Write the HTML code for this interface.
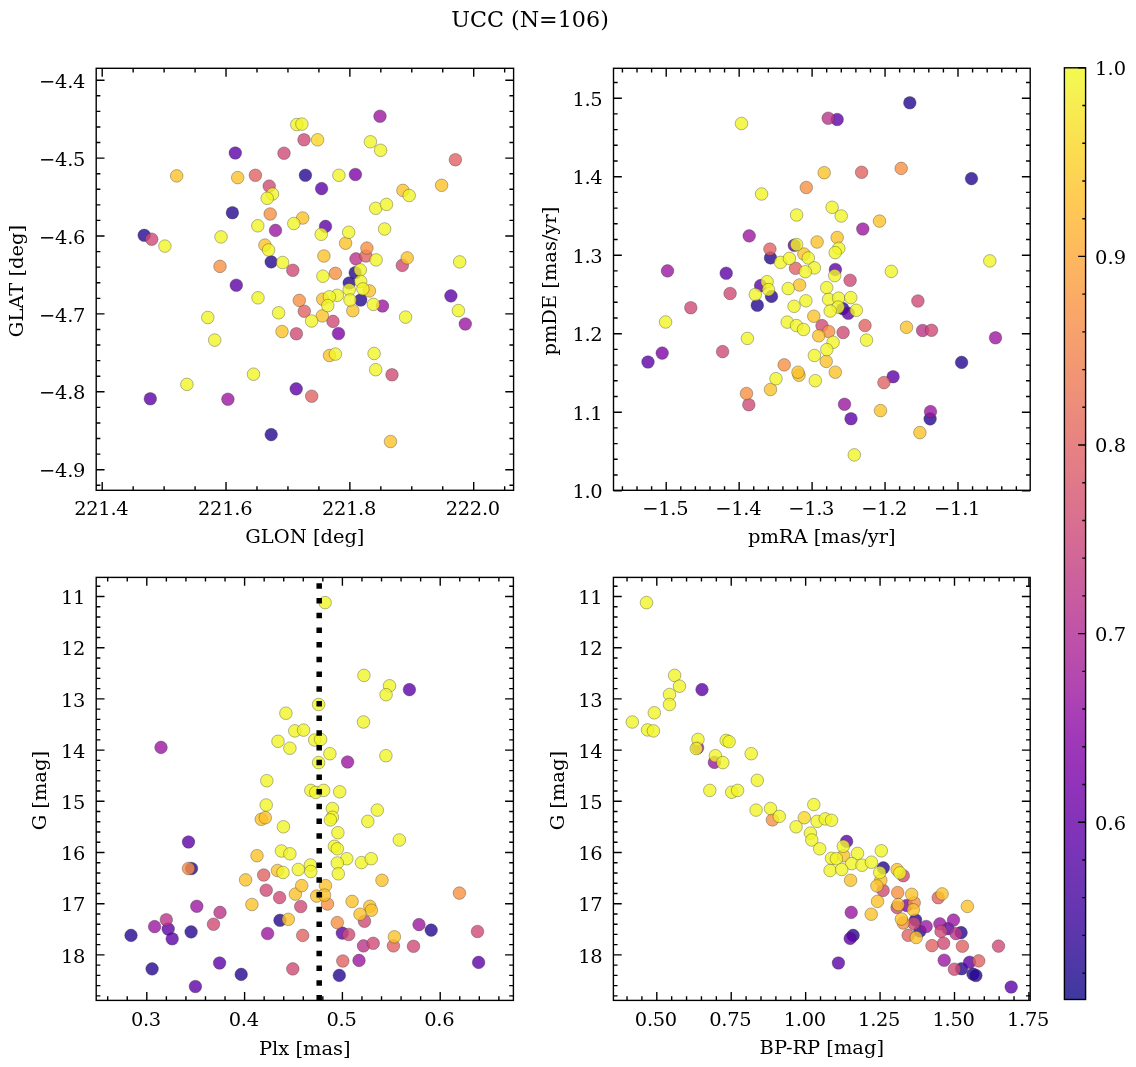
<!DOCTYPE html>
<html><head><meta charset="utf-8"><title>UCC (N=106)</title><style>html,body{margin:0;padding:0;background:#fff;}svg{display:block;}</style></head><body>
<svg width="1136" height="1067" viewBox="0 0 1136 1067" font-family="'DejaVu Serif', 'Liberation Serif', serif" fill="#000">
<rect width="1136" height="1067" fill="#fff"/>
<text x="530" y="26.6" text-anchor="middle" font-size="22.22px">UCC (N=106)</text>
<clipPath id="c96_68"><rect x="96.2" y="68.3" width="417.40000000000003" height="422.0"/></clipPath>
<g clip-path="url(#c96_68)">
<circle cx="305.4" cy="175.3" r="6.3" fill="#240691" fill-opacity="0.8" stroke="#333" stroke-opacity="0.6" stroke-width="0.6"/>
<circle cx="232.4" cy="212.7" r="6.3" fill="#240691" fill-opacity="0.8" stroke="#333" stroke-opacity="0.6" stroke-width="0.6"/>
<circle cx="144.2" cy="235.3" r="6.3" fill="#240691" fill-opacity="0.8" stroke="#333" stroke-opacity="0.6" stroke-width="0.6"/>
<circle cx="271.2" cy="261.9" r="6.3" fill="#240691" fill-opacity="0.8" stroke="#333" stroke-opacity="0.6" stroke-width="0.6"/>
<circle cx="271.2" cy="434.6" r="6.3" fill="#240691" fill-opacity="0.8" stroke="#333" stroke-opacity="0.6" stroke-width="0.6"/>
<circle cx="355.2" cy="272.7" r="6.3" fill="#240691" fill-opacity="0.8" stroke="#333" stroke-opacity="0.6" stroke-width="0.6"/>
<circle cx="349.2" cy="283.0" r="6.3" fill="#240691" fill-opacity="0.8" stroke="#333" stroke-opacity="0.6" stroke-width="0.6"/>
<circle cx="360.7" cy="300.0" r="6.3" fill="#240691" fill-opacity="0.8" stroke="#333" stroke-opacity="0.6" stroke-width="0.6"/>
<circle cx="235.3" cy="153.0" r="6.3" fill="#5e01a6" fill-opacity="0.8" stroke="#333" stroke-opacity="0.6" stroke-width="0.6"/>
<circle cx="321.6" cy="188.6" r="6.3" fill="#5e01a6" fill-opacity="0.8" stroke="#333" stroke-opacity="0.6" stroke-width="0.6"/>
<circle cx="325.5" cy="226.4" r="6.3" fill="#5e01a6" fill-opacity="0.8" stroke="#333" stroke-opacity="0.6" stroke-width="0.6"/>
<circle cx="236.3" cy="285.2" r="6.3" fill="#5e01a6" fill-opacity="0.8" stroke="#333" stroke-opacity="0.6" stroke-width="0.6"/>
<circle cx="296.2" cy="388.9" r="6.3" fill="#5e01a6" fill-opacity="0.8" stroke="#333" stroke-opacity="0.6" stroke-width="0.6"/>
<circle cx="150.3" cy="398.8" r="6.3" fill="#5e01a6" fill-opacity="0.8" stroke="#333" stroke-opacity="0.6" stroke-width="0.6"/>
<circle cx="450.9" cy="295.9" r="6.3" fill="#5e01a6" fill-opacity="0.8" stroke="#333" stroke-opacity="0.6" stroke-width="0.6"/>
<circle cx="355.4" cy="174.5" r="6.3" fill="#7e03a8" fill-opacity="0.8" stroke="#333" stroke-opacity="0.6" stroke-width="0.6"/>
<circle cx="338.5" cy="333.5" r="6.3" fill="#7e03a8" fill-opacity="0.8" stroke="#333" stroke-opacity="0.6" stroke-width="0.6"/>
<circle cx="275.5" cy="230.4" r="6.3" fill="#9a169f" fill-opacity="0.8" stroke="#333" stroke-opacity="0.6" stroke-width="0.6"/>
<circle cx="380.0" cy="116.2" r="6.3" fill="#9a169f" fill-opacity="0.8" stroke="#333" stroke-opacity="0.6" stroke-width="0.6"/>
<circle cx="227.9" cy="399.2" r="6.3" fill="#9a169f" fill-opacity="0.8" stroke="#333" stroke-opacity="0.6" stroke-width="0.6"/>
<circle cx="382.5" cy="306.0" r="6.3" fill="#9a169f" fill-opacity="0.8" stroke="#333" stroke-opacity="0.6" stroke-width="0.6"/>
<circle cx="465.3" cy="324.0" r="6.3" fill="#9a169f" fill-opacity="0.8" stroke="#333" stroke-opacity="0.6" stroke-width="0.6"/>
<circle cx="356.0" cy="258.9" r="6.3" fill="#ba3388" fill-opacity="0.8" stroke="#333" stroke-opacity="0.6" stroke-width="0.6"/>
<circle cx="304.0" cy="139.8" r="6.3" fill="#ce4b75" fill-opacity="0.8" stroke="#333" stroke-opacity="0.6" stroke-width="0.6"/>
<circle cx="284.0" cy="153.2" r="6.3" fill="#ce4b75" fill-opacity="0.8" stroke="#333" stroke-opacity="0.6" stroke-width="0.6"/>
<circle cx="269.2" cy="186.1" r="6.3" fill="#ce4b75" fill-opacity="0.8" stroke="#333" stroke-opacity="0.6" stroke-width="0.6"/>
<circle cx="151.7" cy="239.2" r="6.3" fill="#ce4b75" fill-opacity="0.8" stroke="#333" stroke-opacity="0.6" stroke-width="0.6"/>
<circle cx="402.3" cy="265.4" r="6.3" fill="#ce4b75" fill-opacity="0.8" stroke="#333" stroke-opacity="0.6" stroke-width="0.6"/>
<circle cx="292.8" cy="270.3" r="6.3" fill="#ce4b75" fill-opacity="0.8" stroke="#333" stroke-opacity="0.6" stroke-width="0.6"/>
<circle cx="296.4" cy="333.8" r="6.3" fill="#ce4b75" fill-opacity="0.8" stroke="#333" stroke-opacity="0.6" stroke-width="0.6"/>
<circle cx="333.0" cy="321.4" r="6.3" fill="#ce4b75" fill-opacity="0.8" stroke="#333" stroke-opacity="0.6" stroke-width="0.6"/>
<circle cx="392.0" cy="374.8" r="6.3" fill="#ce4b75" fill-opacity="0.8" stroke="#333" stroke-opacity="0.6" stroke-width="0.6"/>
<circle cx="255.4" cy="175.3" r="6.3" fill="#e06363" fill-opacity="0.8" stroke="#333" stroke-opacity="0.6" stroke-width="0.6"/>
<circle cx="455.4" cy="159.7" r="6.3" fill="#e06363" fill-opacity="0.8" stroke="#333" stroke-opacity="0.6" stroke-width="0.6"/>
<circle cx="365.9" cy="256.0" r="6.3" fill="#e06363" fill-opacity="0.8" stroke="#333" stroke-opacity="0.6" stroke-width="0.6"/>
<circle cx="304.3" cy="311.2" r="6.3" fill="#e06363" fill-opacity="0.8" stroke="#333" stroke-opacity="0.6" stroke-width="0.6"/>
<circle cx="311.7" cy="396.2" r="6.3" fill="#e06363" fill-opacity="0.8" stroke="#333" stroke-opacity="0.6" stroke-width="0.6"/>
<circle cx="270.2" cy="214.0" r="6.3" fill="#f79044" fill-opacity="0.8" stroke="#333" stroke-opacity="0.6" stroke-width="0.6"/>
<circle cx="220.0" cy="266.4" r="6.3" fill="#f79044" fill-opacity="0.8" stroke="#333" stroke-opacity="0.6" stroke-width="0.6"/>
<circle cx="366.9" cy="248.1" r="6.3" fill="#f79044" fill-opacity="0.8" stroke="#333" stroke-opacity="0.6" stroke-width="0.6"/>
<circle cx="299.3" cy="300.4" r="6.3" fill="#f79044" fill-opacity="0.8" stroke="#333" stroke-opacity="0.6" stroke-width="0.6"/>
<circle cx="335.4" cy="273.3" r="6.3" fill="#f79044" fill-opacity="0.8" stroke="#333" stroke-opacity="0.6" stroke-width="0.6"/>
<circle cx="176.7" cy="175.9" r="6.3" fill="#fdc229" fill-opacity="0.8" stroke="#333" stroke-opacity="0.6" stroke-width="0.6"/>
<circle cx="237.7" cy="177.6" r="6.3" fill="#fdc229" fill-opacity="0.8" stroke="#333" stroke-opacity="0.6" stroke-width="0.6"/>
<circle cx="302.7" cy="218.0" r="6.3" fill="#fdc229" fill-opacity="0.8" stroke="#333" stroke-opacity="0.6" stroke-width="0.6"/>
<circle cx="264.9" cy="245.1" r="6.3" fill="#fdc229" fill-opacity="0.8" stroke="#333" stroke-opacity="0.6" stroke-width="0.6"/>
<circle cx="402.9" cy="190.4" r="6.3" fill="#fdc229" fill-opacity="0.8" stroke="#333" stroke-opacity="0.6" stroke-width="0.6"/>
<circle cx="441.6" cy="185.3" r="6.3" fill="#fdc229" fill-opacity="0.8" stroke="#333" stroke-opacity="0.6" stroke-width="0.6"/>
<circle cx="345.6" cy="243.2" r="6.3" fill="#fdc229" fill-opacity="0.8" stroke="#333" stroke-opacity="0.6" stroke-width="0.6"/>
<circle cx="323.9" cy="256.0" r="6.3" fill="#fdc229" fill-opacity="0.8" stroke="#333" stroke-opacity="0.6" stroke-width="0.6"/>
<circle cx="407.2" cy="257.9" r="6.3" fill="#fdc229" fill-opacity="0.8" stroke="#333" stroke-opacity="0.6" stroke-width="0.6"/>
<circle cx="282.0" cy="331.5" r="6.3" fill="#fdc229" fill-opacity="0.8" stroke="#333" stroke-opacity="0.6" stroke-width="0.6"/>
<circle cx="369.4" cy="290.9" r="6.3" fill="#fdc229" fill-opacity="0.8" stroke="#333" stroke-opacity="0.6" stroke-width="0.6"/>
<circle cx="352.8" cy="310.7" r="6.3" fill="#fdc229" fill-opacity="0.8" stroke="#333" stroke-opacity="0.6" stroke-width="0.6"/>
<circle cx="322.7" cy="299.2" r="6.3" fill="#fdc229" fill-opacity="0.8" stroke="#333" stroke-opacity="0.6" stroke-width="0.6"/>
<circle cx="322.3" cy="315.9" r="6.3" fill="#fdc229" fill-opacity="0.8" stroke="#333" stroke-opacity="0.6" stroke-width="0.6"/>
<circle cx="329.5" cy="355.5" r="6.3" fill="#fdc229" fill-opacity="0.8" stroke="#333" stroke-opacity="0.6" stroke-width="0.6"/>
<circle cx="390.5" cy="441.5" r="6.3" fill="#fdc229" fill-opacity="0.8" stroke="#333" stroke-opacity="0.6" stroke-width="0.6"/>
<circle cx="317.6" cy="139.8" r="6.3" fill="#fbd724" fill-opacity="0.8" stroke="#333" stroke-opacity="0.6" stroke-width="0.6"/>
<circle cx="296.8" cy="124.5" r="6.3" fill="#f1f525" fill-opacity="0.8" stroke="#333" stroke-opacity="0.6" stroke-width="0.6"/>
<circle cx="301.9" cy="124.1" r="6.3" fill="#f1f525" fill-opacity="0.8" stroke="#333" stroke-opacity="0.6" stroke-width="0.6"/>
<circle cx="272.5" cy="194.0" r="6.3" fill="#f1f525" fill-opacity="0.8" stroke="#333" stroke-opacity="0.6" stroke-width="0.6"/>
<circle cx="267.2" cy="198.3" r="6.3" fill="#f1f525" fill-opacity="0.8" stroke="#333" stroke-opacity="0.6" stroke-width="0.6"/>
<circle cx="257.8" cy="225.8" r="6.3" fill="#f1f525" fill-opacity="0.8" stroke="#333" stroke-opacity="0.6" stroke-width="0.6"/>
<circle cx="293.8" cy="223.5" r="6.3" fill="#f1f525" fill-opacity="0.8" stroke="#333" stroke-opacity="0.6" stroke-width="0.6"/>
<circle cx="164.9" cy="246.1" r="6.3" fill="#f1f525" fill-opacity="0.8" stroke="#333" stroke-opacity="0.6" stroke-width="0.6"/>
<circle cx="221.0" cy="236.9" r="6.3" fill="#f1f525" fill-opacity="0.8" stroke="#333" stroke-opacity="0.6" stroke-width="0.6"/>
<circle cx="268.6" cy="250.0" r="6.3" fill="#f1f525" fill-opacity="0.8" stroke="#333" stroke-opacity="0.6" stroke-width="0.6"/>
<circle cx="282.6" cy="262.5" r="6.3" fill="#f1f525" fill-opacity="0.8" stroke="#333" stroke-opacity="0.6" stroke-width="0.6"/>
<circle cx="370.4" cy="141.8" r="6.3" fill="#f1f525" fill-opacity="0.8" stroke="#333" stroke-opacity="0.6" stroke-width="0.6"/>
<circle cx="380.6" cy="150.3" r="6.3" fill="#f1f525" fill-opacity="0.8" stroke="#333" stroke-opacity="0.6" stroke-width="0.6"/>
<circle cx="338.9" cy="175.3" r="6.3" fill="#f1f525" fill-opacity="0.8" stroke="#333" stroke-opacity="0.6" stroke-width="0.6"/>
<circle cx="409.2" cy="195.5" r="6.3" fill="#f1f525" fill-opacity="0.8" stroke="#333" stroke-opacity="0.6" stroke-width="0.6"/>
<circle cx="375.7" cy="208.3" r="6.3" fill="#f1f525" fill-opacity="0.8" stroke="#333" stroke-opacity="0.6" stroke-width="0.6"/>
<circle cx="386.5" cy="204.4" r="6.3" fill="#f1f525" fill-opacity="0.8" stroke="#333" stroke-opacity="0.6" stroke-width="0.6"/>
<circle cx="321.2" cy="234.3" r="6.3" fill="#f1f525" fill-opacity="0.8" stroke="#333" stroke-opacity="0.6" stroke-width="0.6"/>
<circle cx="348.7" cy="232.3" r="6.3" fill="#f1f525" fill-opacity="0.8" stroke="#333" stroke-opacity="0.6" stroke-width="0.6"/>
<circle cx="384.6" cy="229.0" r="6.3" fill="#f1f525" fill-opacity="0.8" stroke="#333" stroke-opacity="0.6" stroke-width="0.6"/>
<circle cx="376.1" cy="259.9" r="6.3" fill="#f1f525" fill-opacity="0.8" stroke="#333" stroke-opacity="0.6" stroke-width="0.6"/>
<circle cx="459.7" cy="261.9" r="6.3" fill="#f1f525" fill-opacity="0.8" stroke="#333" stroke-opacity="0.6" stroke-width="0.6"/>
<circle cx="258.0" cy="297.8" r="6.3" fill="#f1f525" fill-opacity="0.8" stroke="#333" stroke-opacity="0.6" stroke-width="0.6"/>
<circle cx="278.6" cy="312.8" r="6.3" fill="#f1f525" fill-opacity="0.8" stroke="#333" stroke-opacity="0.6" stroke-width="0.6"/>
<circle cx="207.8" cy="317.5" r="6.3" fill="#f1f525" fill-opacity="0.8" stroke="#333" stroke-opacity="0.6" stroke-width="0.6"/>
<circle cx="214.7" cy="340.1" r="6.3" fill="#f1f525" fill-opacity="0.8" stroke="#333" stroke-opacity="0.6" stroke-width="0.6"/>
<circle cx="253.5" cy="374.2" r="6.3" fill="#f1f525" fill-opacity="0.8" stroke="#333" stroke-opacity="0.6" stroke-width="0.6"/>
<circle cx="186.9" cy="384.4" r="6.3" fill="#f1f525" fill-opacity="0.8" stroke="#333" stroke-opacity="0.6" stroke-width="0.6"/>
<circle cx="322.9" cy="276.2" r="6.3" fill="#f1f525" fill-opacity="0.8" stroke="#333" stroke-opacity="0.6" stroke-width="0.6"/>
<circle cx="360.3" cy="269.9" r="6.3" fill="#f1f525" fill-opacity="0.8" stroke="#333" stroke-opacity="0.6" stroke-width="0.6"/>
<circle cx="360.7" cy="281.4" r="6.3" fill="#f1f525" fill-opacity="0.8" stroke="#333" stroke-opacity="0.6" stroke-width="0.6"/>
<circle cx="349.2" cy="289.7" r="6.3" fill="#f1f525" fill-opacity="0.8" stroke="#333" stroke-opacity="0.6" stroke-width="0.6"/>
<circle cx="362.9" cy="288.9" r="6.3" fill="#f1f525" fill-opacity="0.8" stroke="#333" stroke-opacity="0.6" stroke-width="0.6"/>
<circle cx="350.0" cy="300.0" r="6.3" fill="#f1f525" fill-opacity="0.8" stroke="#333" stroke-opacity="0.6" stroke-width="0.6"/>
<circle cx="337.3" cy="295.3" r="6.3" fill="#f1f525" fill-opacity="0.8" stroke="#333" stroke-opacity="0.6" stroke-width="0.6"/>
<circle cx="329.4" cy="296.8" r="6.3" fill="#f1f525" fill-opacity="0.8" stroke="#333" stroke-opacity="0.6" stroke-width="0.6"/>
<circle cx="327.8" cy="305.6" r="6.3" fill="#f1f525" fill-opacity="0.8" stroke="#333" stroke-opacity="0.6" stroke-width="0.6"/>
<circle cx="373.4" cy="304.4" r="6.3" fill="#f1f525" fill-opacity="0.8" stroke="#333" stroke-opacity="0.6" stroke-width="0.6"/>
<circle cx="311.6" cy="321.0" r="6.3" fill="#f1f525" fill-opacity="0.8" stroke="#333" stroke-opacity="0.6" stroke-width="0.6"/>
<circle cx="405.6" cy="317.1" r="6.3" fill="#f1f525" fill-opacity="0.8" stroke="#333" stroke-opacity="0.6" stroke-width="0.6"/>
<circle cx="458.4" cy="310.6" r="6.3" fill="#f1f525" fill-opacity="0.8" stroke="#333" stroke-opacity="0.6" stroke-width="0.6"/>
<circle cx="335.4" cy="354.1" r="6.3" fill="#f1f525" fill-opacity="0.8" stroke="#333" stroke-opacity="0.6" stroke-width="0.6"/>
<circle cx="374.1" cy="353.5" r="6.3" fill="#f1f525" fill-opacity="0.8" stroke="#333" stroke-opacity="0.6" stroke-width="0.6"/>
<circle cx="375.7" cy="369.7" r="6.3" fill="#f1f525" fill-opacity="0.8" stroke="#333" stroke-opacity="0.6" stroke-width="0.6"/>
</g>
<path d="M102.20 490.3v-8.33M102.20 68.3v8.33M226.03 490.3v-8.33M226.03 68.3v8.33M349.87 490.3v-8.33M349.87 68.3v8.33M473.70 490.3v-8.33M473.70 68.3v8.33M102.20 490.3v-4.17M102.20 68.3v4.17M133.16 490.3v-4.17M133.16 68.3v4.17M164.12 490.3v-4.17M164.12 68.3v4.17M195.08 490.3v-4.17M195.08 68.3v4.17M226.03 490.3v-4.17M226.03 68.3v4.17M256.99 490.3v-4.17M256.99 68.3v4.17M287.95 490.3v-4.17M287.95 68.3v4.17M318.91 490.3v-4.17M318.91 68.3v4.17M349.87 490.3v-4.17M349.87 68.3v4.17M380.83 490.3v-4.17M380.83 68.3v4.17M411.78 490.3v-4.17M411.78 68.3v4.17M442.74 490.3v-4.17M442.74 68.3v4.17M473.70 490.3v-4.17M473.70 68.3v4.17M504.66 490.3v-4.17M504.66 68.3v4.17M96.2 469.70h8.33M513.6 469.70h-8.33M96.2 391.80h8.33M513.6 391.80h-8.33M96.2 313.90h8.33M513.6 313.90h-8.33M96.2 236.00h8.33M513.6 236.00h-8.33M96.2 158.10h8.33M513.6 158.10h-8.33M96.2 80.20h8.33M513.6 80.20h-8.33M96.2 485.28h4.17M513.6 485.28h-4.17M96.2 469.70h4.17M513.6 469.70h-4.17M96.2 454.12h4.17M513.6 454.12h-4.17M96.2 438.54h4.17M513.6 438.54h-4.17M96.2 422.96h4.17M513.6 422.96h-4.17M96.2 407.38h4.17M513.6 407.38h-4.17M96.2 391.80h4.17M513.6 391.80h-4.17M96.2 376.22h4.17M513.6 376.22h-4.17M96.2 360.64h4.17M513.6 360.64h-4.17M96.2 345.06h4.17M513.6 345.06h-4.17M96.2 329.48h4.17M513.6 329.48h-4.17M96.2 313.90h4.17M513.6 313.90h-4.17M96.2 298.32h4.17M513.6 298.32h-4.17M96.2 282.74h4.17M513.6 282.74h-4.17M96.2 267.16h4.17M513.6 267.16h-4.17M96.2 251.58h4.17M513.6 251.58h-4.17M96.2 236.00h4.17M513.6 236.00h-4.17M96.2 220.42h4.17M513.6 220.42h-4.17M96.2 204.84h4.17M513.6 204.84h-4.17M96.2 189.26h4.17M513.6 189.26h-4.17M96.2 173.68h4.17M513.6 173.68h-4.17M96.2 158.10h4.17M513.6 158.10h-4.17M96.2 142.52h4.17M513.6 142.52h-4.17M96.2 126.94h4.17M513.6 126.94h-4.17M96.2 111.36h4.17M513.6 111.36h-4.17M96.2 95.78h4.17M513.6 95.78h-4.17M96.2 80.20h4.17M513.6 80.20h-4.17" stroke="#000" stroke-width="1.39" fill="none"/>
<rect x="96.2" y="68.3" width="417.40000000000003" height="422.0" stroke="#000" stroke-width="1.39" fill="none"/>
<g font-size="19.44px" letter-spacing="-0.3px">
<text x="101.30" y="515.40" text-anchor="middle">221.4</text>
<text x="225.13" y="515.40" text-anchor="middle">221.6</text>
<text x="348.97" y="515.40" text-anchor="middle">221.8</text>
<text x="472.80" y="515.40" text-anchor="middle">222.0</text>
<text x="85.10" y="477.30" text-anchor="end">−4.9</text>
<text x="85.10" y="399.40" text-anchor="end">−4.8</text>
<text x="85.10" y="321.50" text-anchor="end">−4.7</text>
<text x="85.10" y="243.60" text-anchor="end">−4.6</text>
<text x="85.10" y="165.70" text-anchor="end">−4.5</text>
<text x="85.10" y="87.80" text-anchor="end">−4.4</text>
</g>
<text x="304.90" y="543.20" text-anchor="middle" font-size="19.44px">GLON [deg]</text>
<text transform="translate(23.30,281.10) rotate(-90)" text-anchor="middle" font-size="19.44px">GLAT [deg]</text>
<clipPath id="c613_68"><rect x="613.5" y="68.3" width="416.70000000000005" height="422.0"/></clipPath>
<g clip-path="url(#c613_68)">
<circle cx="770.5" cy="257.9" r="6.3" fill="#240691" fill-opacity="0.8" stroke="#333" stroke-opacity="0.6" stroke-width="0.6"/>
<circle cx="909.8" cy="102.8" r="6.3" fill="#240691" fill-opacity="0.8" stroke="#333" stroke-opacity="0.6" stroke-width="0.6"/>
<circle cx="971.5" cy="178.6" r="6.3" fill="#240691" fill-opacity="0.8" stroke="#333" stroke-opacity="0.6" stroke-width="0.6"/>
<circle cx="771.5" cy="296.4" r="6.3" fill="#240691" fill-opacity="0.8" stroke="#333" stroke-opacity="0.6" stroke-width="0.6"/>
<circle cx="757.3" cy="305.3" r="6.3" fill="#240691" fill-opacity="0.8" stroke="#333" stroke-opacity="0.6" stroke-width="0.6"/>
<circle cx="842.8" cy="308.6" r="6.3" fill="#240691" fill-opacity="0.8" stroke="#333" stroke-opacity="0.6" stroke-width="0.6"/>
<circle cx="961.6" cy="362.4" r="6.3" fill="#240691" fill-opacity="0.8" stroke="#333" stroke-opacity="0.6" stroke-width="0.6"/>
<circle cx="930.1" cy="418.9" r="6.3" fill="#240691" fill-opacity="0.8" stroke="#333" stroke-opacity="0.6" stroke-width="0.6"/>
<circle cx="794.3" cy="245.3" r="6.3" fill="#5e01a6" fill-opacity="0.8" stroke="#333" stroke-opacity="0.6" stroke-width="0.6"/>
<circle cx="837.2" cy="119.5" r="6.3" fill="#5e01a6" fill-opacity="0.8" stroke="#333" stroke-opacity="0.6" stroke-width="0.6"/>
<circle cx="726.2" cy="273.2" r="6.3" fill="#5e01a6" fill-opacity="0.8" stroke="#333" stroke-opacity="0.6" stroke-width="0.6"/>
<circle cx="760.6" cy="285.6" r="6.3" fill="#5e01a6" fill-opacity="0.8" stroke="#333" stroke-opacity="0.6" stroke-width="0.6"/>
<circle cx="648.0" cy="362.0" r="6.3" fill="#5e01a6" fill-opacity="0.8" stroke="#333" stroke-opacity="0.6" stroke-width="0.6"/>
<circle cx="835.4" cy="269.5" r="6.3" fill="#5e01a6" fill-opacity="0.8" stroke="#333" stroke-opacity="0.6" stroke-width="0.6"/>
<circle cx="848.3" cy="313.3" r="6.3" fill="#5e01a6" fill-opacity="0.8" stroke="#333" stroke-opacity="0.6" stroke-width="0.6"/>
<circle cx="893.1" cy="376.7" r="6.3" fill="#5e01a6" fill-opacity="0.8" stroke="#333" stroke-opacity="0.6" stroke-width="0.6"/>
<circle cx="851.0" cy="418.7" r="6.3" fill="#5e01a6" fill-opacity="0.8" stroke="#333" stroke-opacity="0.6" stroke-width="0.6"/>
<circle cx="662.2" cy="353.1" r="6.3" fill="#7e03a8" fill-opacity="0.8" stroke="#333" stroke-opacity="0.6" stroke-width="0.6"/>
<circle cx="749.2" cy="235.9" r="6.3" fill="#9a169f" fill-opacity="0.8" stroke="#333" stroke-opacity="0.6" stroke-width="0.6"/>
<circle cx="862.8" cy="229.0" r="6.3" fill="#9a169f" fill-opacity="0.8" stroke="#333" stroke-opacity="0.6" stroke-width="0.6"/>
<circle cx="667.5" cy="270.9" r="6.3" fill="#9a169f" fill-opacity="0.8" stroke="#333" stroke-opacity="0.6" stroke-width="0.6"/>
<circle cx="995.5" cy="337.8" r="6.3" fill="#9a169f" fill-opacity="0.8" stroke="#333" stroke-opacity="0.6" stroke-width="0.6"/>
<circle cx="844.5" cy="404.3" r="6.3" fill="#9a169f" fill-opacity="0.8" stroke="#333" stroke-opacity="0.6" stroke-width="0.6"/>
<circle cx="930.5" cy="411.6" r="6.3" fill="#9a169f" fill-opacity="0.8" stroke="#333" stroke-opacity="0.6" stroke-width="0.6"/>
<circle cx="828.2" cy="118.2" r="6.3" fill="#ba3388" fill-opacity="0.8" stroke="#333" stroke-opacity="0.6" stroke-width="0.6"/>
<circle cx="922.6" cy="330.5" r="6.3" fill="#ba3388" fill-opacity="0.8" stroke="#333" stroke-opacity="0.6" stroke-width="0.6"/>
<circle cx="730.1" cy="293.5" r="6.3" fill="#ce4b75" fill-opacity="0.8" stroke="#333" stroke-opacity="0.6" stroke-width="0.6"/>
<circle cx="690.8" cy="307.7" r="6.3" fill="#ce4b75" fill-opacity="0.8" stroke="#333" stroke-opacity="0.6" stroke-width="0.6"/>
<circle cx="822.0" cy="325.6" r="6.3" fill="#ce4b75" fill-opacity="0.8" stroke="#333" stroke-opacity="0.6" stroke-width="0.6"/>
<circle cx="722.6" cy="351.6" r="6.3" fill="#ce4b75" fill-opacity="0.8" stroke="#333" stroke-opacity="0.6" stroke-width="0.6"/>
<circle cx="748.8" cy="404.7" r="6.3" fill="#ce4b75" fill-opacity="0.8" stroke="#333" stroke-opacity="0.6" stroke-width="0.6"/>
<circle cx="850.1" cy="280.3" r="6.3" fill="#ce4b75" fill-opacity="0.8" stroke="#333" stroke-opacity="0.6" stroke-width="0.6"/>
<circle cx="843.1" cy="332.5" r="6.3" fill="#ce4b75" fill-opacity="0.8" stroke="#333" stroke-opacity="0.6" stroke-width="0.6"/>
<circle cx="917.9" cy="301.0" r="6.3" fill="#ce4b75" fill-opacity="0.8" stroke="#333" stroke-opacity="0.6" stroke-width="0.6"/>
<circle cx="931.5" cy="330.3" r="6.3" fill="#ce4b75" fill-opacity="0.8" stroke="#333" stroke-opacity="0.6" stroke-width="0.6"/>
<circle cx="769.9" cy="249.1" r="6.3" fill="#e06363" fill-opacity="0.8" stroke="#333" stroke-opacity="0.6" stroke-width="0.6"/>
<circle cx="861.6" cy="172.3" r="6.3" fill="#e06363" fill-opacity="0.8" stroke="#333" stroke-opacity="0.6" stroke-width="0.6"/>
<circle cx="795.5" cy="268.3" r="6.3" fill="#e06363" fill-opacity="0.8" stroke="#333" stroke-opacity="0.6" stroke-width="0.6"/>
<circle cx="865.0" cy="325.5" r="6.3" fill="#e06363" fill-opacity="0.8" stroke="#333" stroke-opacity="0.6" stroke-width="0.6"/>
<circle cx="883.9" cy="382.6" r="6.3" fill="#e06363" fill-opacity="0.8" stroke="#333" stroke-opacity="0.6" stroke-width="0.6"/>
<circle cx="806.3" cy="187.5" r="6.3" fill="#f79044" fill-opacity="0.8" stroke="#333" stroke-opacity="0.6" stroke-width="0.6"/>
<circle cx="901.2" cy="168.4" r="6.3" fill="#f79044" fill-opacity="0.8" stroke="#333" stroke-opacity="0.6" stroke-width="0.6"/>
<circle cx="784.2" cy="364.9" r="6.3" fill="#f79044" fill-opacity="0.8" stroke="#333" stroke-opacity="0.6" stroke-width="0.6"/>
<circle cx="746.5" cy="393.5" r="6.3" fill="#f79044" fill-opacity="0.8" stroke="#333" stroke-opacity="0.6" stroke-width="0.6"/>
<circle cx="828.7" cy="331.5" r="6.3" fill="#f79044" fill-opacity="0.8" stroke="#333" stroke-opacity="0.6" stroke-width="0.6"/>
<circle cx="817.1" cy="242.0" r="6.3" fill="#fdc229" fill-opacity="0.8" stroke="#333" stroke-opacity="0.6" stroke-width="0.6"/>
<circle cx="803.9" cy="254.0" r="6.3" fill="#fdc229" fill-opacity="0.8" stroke="#333" stroke-opacity="0.6" stroke-width="0.6"/>
<circle cx="824.2" cy="172.7" r="6.3" fill="#fdc229" fill-opacity="0.8" stroke="#333" stroke-opacity="0.6" stroke-width="0.6"/>
<circle cx="879.5" cy="221.1" r="6.3" fill="#fdc229" fill-opacity="0.8" stroke="#333" stroke-opacity="0.6" stroke-width="0.6"/>
<circle cx="837.2" cy="237.5" r="6.3" fill="#fdc229" fill-opacity="0.8" stroke="#333" stroke-opacity="0.6" stroke-width="0.6"/>
<circle cx="799.6" cy="285.0" r="6.3" fill="#fdc229" fill-opacity="0.8" stroke="#333" stroke-opacity="0.6" stroke-width="0.6"/>
<circle cx="813.8" cy="316.2" r="6.3" fill="#fdc229" fill-opacity="0.8" stroke="#333" stroke-opacity="0.6" stroke-width="0.6"/>
<circle cx="818.7" cy="335.8" r="6.3" fill="#fdc229" fill-opacity="0.8" stroke="#333" stroke-opacity="0.6" stroke-width="0.6"/>
<circle cx="799.0" cy="375.2" r="6.3" fill="#fdc229" fill-opacity="0.8" stroke="#333" stroke-opacity="0.6" stroke-width="0.6"/>
<circle cx="798.0" cy="372.2" r="6.3" fill="#fdc229" fill-opacity="0.8" stroke="#333" stroke-opacity="0.6" stroke-width="0.6"/>
<circle cx="770.5" cy="389.5" r="6.3" fill="#fdc229" fill-opacity="0.8" stroke="#333" stroke-opacity="0.6" stroke-width="0.6"/>
<circle cx="826.2" cy="361.4" r="6.3" fill="#fdc229" fill-opacity="0.8" stroke="#333" stroke-opacity="0.6" stroke-width="0.6"/>
<circle cx="835.3" cy="372.2" r="6.3" fill="#fdc229" fill-opacity="0.8" stroke="#333" stroke-opacity="0.6" stroke-width="0.6"/>
<circle cx="906.5" cy="327.3" r="6.3" fill="#fdc229" fill-opacity="0.8" stroke="#333" stroke-opacity="0.6" stroke-width="0.6"/>
<circle cx="880.5" cy="410.6" r="6.3" fill="#fdc229" fill-opacity="0.8" stroke="#333" stroke-opacity="0.6" stroke-width="0.6"/>
<circle cx="919.9" cy="432.6" r="6.3" fill="#fdc229" fill-opacity="0.8" stroke="#333" stroke-opacity="0.6" stroke-width="0.6"/>
<circle cx="741.5" cy="123.5" r="6.3" fill="#f1f525" fill-opacity="0.8" stroke="#333" stroke-opacity="0.6" stroke-width="0.6"/>
<circle cx="761.6" cy="194.0" r="6.3" fill="#f1f525" fill-opacity="0.8" stroke="#333" stroke-opacity="0.6" stroke-width="0.6"/>
<circle cx="796.6" cy="215.0" r="6.3" fill="#f1f525" fill-opacity="0.8" stroke="#333" stroke-opacity="0.6" stroke-width="0.6"/>
<circle cx="796.6" cy="244.6" r="6.3" fill="#f1f525" fill-opacity="0.8" stroke="#333" stroke-opacity="0.6" stroke-width="0.6"/>
<circle cx="780.5" cy="262.4" r="6.3" fill="#f1f525" fill-opacity="0.8" stroke="#333" stroke-opacity="0.6" stroke-width="0.6"/>
<circle cx="789.4" cy="258.4" r="6.3" fill="#f1f525" fill-opacity="0.8" stroke="#333" stroke-opacity="0.6" stroke-width="0.6"/>
<circle cx="808.3" cy="258.0" r="6.3" fill="#f1f525" fill-opacity="0.8" stroke="#333" stroke-opacity="0.6" stroke-width="0.6"/>
<circle cx="832.1" cy="207.3" r="6.3" fill="#f1f525" fill-opacity="0.8" stroke="#333" stroke-opacity="0.6" stroke-width="0.6"/>
<circle cx="841.2" cy="216.0" r="6.3" fill="#f1f525" fill-opacity="0.8" stroke="#333" stroke-opacity="0.6" stroke-width="0.6"/>
<circle cx="838.8" cy="248.3" r="6.3" fill="#f1f525" fill-opacity="0.8" stroke="#333" stroke-opacity="0.6" stroke-width="0.6"/>
<circle cx="835.2" cy="252.6" r="6.3" fill="#f1f525" fill-opacity="0.8" stroke="#333" stroke-opacity="0.6" stroke-width="0.6"/>
<circle cx="989.8" cy="260.9" r="6.3" fill="#f1f525" fill-opacity="0.8" stroke="#333" stroke-opacity="0.6" stroke-width="0.6"/>
<circle cx="814.4" cy="267.9" r="6.3" fill="#f1f525" fill-opacity="0.8" stroke="#333" stroke-opacity="0.6" stroke-width="0.6"/>
<circle cx="805.3" cy="271.7" r="6.3" fill="#f1f525" fill-opacity="0.8" stroke="#333" stroke-opacity="0.6" stroke-width="0.6"/>
<circle cx="665.6" cy="322.0" r="6.3" fill="#f1f525" fill-opacity="0.8" stroke="#333" stroke-opacity="0.6" stroke-width="0.6"/>
<circle cx="767.1" cy="281.7" r="6.3" fill="#f1f525" fill-opacity="0.8" stroke="#333" stroke-opacity="0.6" stroke-width="0.6"/>
<circle cx="768.5" cy="289.6" r="6.3" fill="#f1f525" fill-opacity="0.8" stroke="#333" stroke-opacity="0.6" stroke-width="0.6"/>
<circle cx="755.3" cy="294.5" r="6.3" fill="#f1f525" fill-opacity="0.8" stroke="#333" stroke-opacity="0.6" stroke-width="0.6"/>
<circle cx="788.2" cy="288.6" r="6.3" fill="#f1f525" fill-opacity="0.8" stroke="#333" stroke-opacity="0.6" stroke-width="0.6"/>
<circle cx="805.9" cy="300.8" r="6.3" fill="#f1f525" fill-opacity="0.8" stroke="#333" stroke-opacity="0.6" stroke-width="0.6"/>
<circle cx="794.1" cy="306.3" r="6.3" fill="#f1f525" fill-opacity="0.8" stroke="#333" stroke-opacity="0.6" stroke-width="0.6"/>
<circle cx="787.2" cy="322.1" r="6.3" fill="#f1f525" fill-opacity="0.8" stroke="#333" stroke-opacity="0.6" stroke-width="0.6"/>
<circle cx="796.5" cy="325.6" r="6.3" fill="#f1f525" fill-opacity="0.8" stroke="#333" stroke-opacity="0.6" stroke-width="0.6"/>
<circle cx="803.5" cy="329.5" r="6.3" fill="#f1f525" fill-opacity="0.8" stroke="#333" stroke-opacity="0.6" stroke-width="0.6"/>
<circle cx="747.4" cy="338.4" r="6.3" fill="#f1f525" fill-opacity="0.8" stroke="#333" stroke-opacity="0.6" stroke-width="0.6"/>
<circle cx="814.4" cy="355.5" r="6.3" fill="#f1f525" fill-opacity="0.8" stroke="#333" stroke-opacity="0.6" stroke-width="0.6"/>
<circle cx="776.0" cy="378.7" r="6.3" fill="#f1f525" fill-opacity="0.8" stroke="#333" stroke-opacity="0.6" stroke-width="0.6"/>
<circle cx="815.3" cy="380.7" r="6.3" fill="#f1f525" fill-opacity="0.8" stroke="#333" stroke-opacity="0.6" stroke-width="0.6"/>
<circle cx="834.7" cy="275.6" r="6.3" fill="#f1f525" fill-opacity="0.8" stroke="#333" stroke-opacity="0.6" stroke-width="0.6"/>
<circle cx="891.3" cy="271.4" r="6.3" fill="#f1f525" fill-opacity="0.8" stroke="#333" stroke-opacity="0.6" stroke-width="0.6"/>
<circle cx="826.7" cy="287.6" r="6.3" fill="#f1f525" fill-opacity="0.8" stroke="#333" stroke-opacity="0.6" stroke-width="0.6"/>
<circle cx="828.6" cy="299.4" r="6.3" fill="#f1f525" fill-opacity="0.8" stroke="#333" stroke-opacity="0.6" stroke-width="0.6"/>
<circle cx="838.6" cy="298.1" r="6.3" fill="#f1f525" fill-opacity="0.8" stroke="#333" stroke-opacity="0.6" stroke-width="0.6"/>
<circle cx="850.8" cy="297.6" r="6.3" fill="#f1f525" fill-opacity="0.8" stroke="#333" stroke-opacity="0.6" stroke-width="0.6"/>
<circle cx="838.2" cy="307.1" r="6.3" fill="#f1f525" fill-opacity="0.8" stroke="#333" stroke-opacity="0.6" stroke-width="0.6"/>
<circle cx="830.2" cy="311.0" r="6.3" fill="#f1f525" fill-opacity="0.8" stroke="#333" stroke-opacity="0.6" stroke-width="0.6"/>
<circle cx="856.3" cy="310.3" r="6.3" fill="#f1f525" fill-opacity="0.8" stroke="#333" stroke-opacity="0.6" stroke-width="0.6"/>
<circle cx="866.5" cy="340.1" r="6.3" fill="#f1f525" fill-opacity="0.8" stroke="#333" stroke-opacity="0.6" stroke-width="0.6"/>
<circle cx="833.1" cy="342.3" r="6.3" fill="#f1f525" fill-opacity="0.8" stroke="#333" stroke-opacity="0.6" stroke-width="0.6"/>
<circle cx="826.8" cy="349.6" r="6.3" fill="#f1f525" fill-opacity="0.8" stroke="#333" stroke-opacity="0.6" stroke-width="0.6"/>
<circle cx="854.3" cy="454.9" r="6.3" fill="#f1f525" fill-opacity="0.8" stroke="#333" stroke-opacity="0.6" stroke-width="0.6"/>
</g>
<path d="M666.20 490.3v-8.33M666.20 68.3v8.33M739.15 490.3v-8.33M739.15 68.3v8.33M812.10 490.3v-8.33M812.10 68.3v8.33M885.05 490.3v-8.33M885.05 68.3v8.33M958.00 490.3v-8.33M958.00 68.3v8.33M622.43 490.3v-4.17M622.43 68.3v4.17M637.02 490.3v-4.17M637.02 68.3v4.17M651.61 490.3v-4.17M651.61 68.3v4.17M666.20 490.3v-4.17M666.20 68.3v4.17M680.79 490.3v-4.17M680.79 68.3v4.17M695.38 490.3v-4.17M695.38 68.3v4.17M709.97 490.3v-4.17M709.97 68.3v4.17M724.56 490.3v-4.17M724.56 68.3v4.17M739.15 490.3v-4.17M739.15 68.3v4.17M753.74 490.3v-4.17M753.74 68.3v4.17M768.33 490.3v-4.17M768.33 68.3v4.17M782.92 490.3v-4.17M782.92 68.3v4.17M797.51 490.3v-4.17M797.51 68.3v4.17M812.10 490.3v-4.17M812.10 68.3v4.17M826.69 490.3v-4.17M826.69 68.3v4.17M841.28 490.3v-4.17M841.28 68.3v4.17M855.87 490.3v-4.17M855.87 68.3v4.17M870.46 490.3v-4.17M870.46 68.3v4.17M885.05 490.3v-4.17M885.05 68.3v4.17M899.64 490.3v-4.17M899.64 68.3v4.17M914.23 490.3v-4.17M914.23 68.3v4.17M928.82 490.3v-4.17M928.82 68.3v4.17M943.41 490.3v-4.17M943.41 68.3v4.17M958.00 490.3v-4.17M958.00 68.3v4.17M972.59 490.3v-4.17M972.59 68.3v4.17M987.18 490.3v-4.17M987.18 68.3v4.17M1001.77 490.3v-4.17M1001.77 68.3v4.17M1016.36 490.3v-4.17M1016.36 68.3v4.17M613.5 490.70h8.33M1030.2 490.70h-8.33M613.5 412.20h8.33M1030.2 412.20h-8.33M613.5 333.70h8.33M1030.2 333.70h-8.33M613.5 255.20h8.33M1030.2 255.20h-8.33M613.5 176.70h8.33M1030.2 176.70h-8.33M613.5 98.20h8.33M1030.2 98.20h-8.33M613.5 475.00h4.17M1030.2 475.00h-4.17M613.5 459.30h4.17M1030.2 459.30h-4.17M613.5 443.60h4.17M1030.2 443.60h-4.17M613.5 427.90h4.17M1030.2 427.90h-4.17M613.5 412.20h4.17M1030.2 412.20h-4.17M613.5 396.50h4.17M1030.2 396.50h-4.17M613.5 380.80h4.17M1030.2 380.80h-4.17M613.5 365.10h4.17M1030.2 365.10h-4.17M613.5 349.40h4.17M1030.2 349.40h-4.17M613.5 333.70h4.17M1030.2 333.70h-4.17M613.5 318.00h4.17M1030.2 318.00h-4.17M613.5 302.30h4.17M1030.2 302.30h-4.17M613.5 286.60h4.17M1030.2 286.60h-4.17M613.5 270.90h4.17M1030.2 270.90h-4.17M613.5 255.20h4.17M1030.2 255.20h-4.17M613.5 239.50h4.17M1030.2 239.50h-4.17M613.5 223.80h4.17M1030.2 223.80h-4.17M613.5 208.10h4.17M1030.2 208.10h-4.17M613.5 192.40h4.17M1030.2 192.40h-4.17M613.5 176.70h4.17M1030.2 176.70h-4.17M613.5 161.00h4.17M1030.2 161.00h-4.17M613.5 145.30h4.17M1030.2 145.30h-4.17M613.5 129.60h4.17M1030.2 129.60h-4.17M613.5 113.90h4.17M1030.2 113.90h-4.17M613.5 98.20h4.17M1030.2 98.20h-4.17M613.5 82.50h4.17M1030.2 82.50h-4.17" stroke="#000" stroke-width="1.39" fill="none"/>
<rect x="613.5" y="68.3" width="416.70000000000005" height="422.0" stroke="#000" stroke-width="1.39" fill="none"/>
<g font-size="19.44px" letter-spacing="-0.3px">
<text x="665.30" y="515.40" text-anchor="middle">−1.5</text>
<text x="738.25" y="515.40" text-anchor="middle">−1.4</text>
<text x="811.20" y="515.40" text-anchor="middle">−1.3</text>
<text x="884.15" y="515.40" text-anchor="middle">−1.2</text>
<text x="957.10" y="515.40" text-anchor="middle">−1.1</text>
<text x="602.40" y="498.30" text-anchor="end">1.0</text>
<text x="602.40" y="419.80" text-anchor="end">1.1</text>
<text x="602.40" y="341.30" text-anchor="end">1.2</text>
<text x="602.40" y="262.80" text-anchor="end">1.3</text>
<text x="602.40" y="184.30" text-anchor="end">1.4</text>
<text x="602.40" y="105.80" text-anchor="end">1.5</text>
</g>
<text x="821.85" y="543.20" text-anchor="middle" font-size="19.44px">pmRA [mas/yr]</text>
<text transform="translate(555.60,281.10) rotate(-90)" text-anchor="middle" font-size="19.44px">pmDE [mas/yr]</text>
<clipPath id="c96_577"><rect x="96.2" y="577.4" width="417.2" height="423.0"/></clipPath>
<g clip-path="url(#c96_577)">
<circle cx="191.5" cy="868.5" r="6.3" fill="#240691" fill-opacity="0.8" stroke="#333" stroke-opacity="0.6" stroke-width="0.6"/>
<circle cx="280.0" cy="920.3" r="6.3" fill="#240691" fill-opacity="0.8" stroke="#333" stroke-opacity="0.6" stroke-width="0.6"/>
<circle cx="191.1" cy="931.9" r="6.3" fill="#240691" fill-opacity="0.8" stroke="#333" stroke-opacity="0.6" stroke-width="0.6"/>
<circle cx="131.0" cy="935.4" r="6.3" fill="#240691" fill-opacity="0.8" stroke="#333" stroke-opacity="0.6" stroke-width="0.6"/>
<circle cx="152.1" cy="968.9" r="6.3" fill="#240691" fill-opacity="0.8" stroke="#333" stroke-opacity="0.6" stroke-width="0.6"/>
<circle cx="241.2" cy="974.4" r="6.3" fill="#240691" fill-opacity="0.8" stroke="#333" stroke-opacity="0.6" stroke-width="0.6"/>
<circle cx="431.2" cy="930.1" r="6.3" fill="#240691" fill-opacity="0.8" stroke="#333" stroke-opacity="0.6" stroke-width="0.6"/>
<circle cx="339.3" cy="975.4" r="6.3" fill="#240691" fill-opacity="0.8" stroke="#333" stroke-opacity="0.6" stroke-width="0.6"/>
<circle cx="409.4" cy="689.6" r="6.3" fill="#5e01a6" fill-opacity="0.8" stroke="#333" stroke-opacity="0.6" stroke-width="0.6"/>
<circle cx="188.5" cy="842.0" r="6.3" fill="#5e01a6" fill-opacity="0.8" stroke="#333" stroke-opacity="0.6" stroke-width="0.6"/>
<circle cx="168.2" cy="929.0" r="6.3" fill="#5e01a6" fill-opacity="0.8" stroke="#333" stroke-opacity="0.6" stroke-width="0.6"/>
<circle cx="172.2" cy="938.8" r="6.3" fill="#5e01a6" fill-opacity="0.8" stroke="#333" stroke-opacity="0.6" stroke-width="0.6"/>
<circle cx="219.6" cy="963.0" r="6.3" fill="#5e01a6" fill-opacity="0.8" stroke="#333" stroke-opacity="0.6" stroke-width="0.6"/>
<circle cx="195.4" cy="986.5" r="6.3" fill="#5e01a6" fill-opacity="0.8" stroke="#333" stroke-opacity="0.6" stroke-width="0.6"/>
<circle cx="342.3" cy="933.1" r="6.3" fill="#5e01a6" fill-opacity="0.8" stroke="#333" stroke-opacity="0.6" stroke-width="0.6"/>
<circle cx="478.6" cy="962.4" r="6.3" fill="#5e01a6" fill-opacity="0.8" stroke="#333" stroke-opacity="0.6" stroke-width="0.6"/>
<circle cx="161.0" cy="747.4" r="6.3" fill="#9a169f" fill-opacity="0.8" stroke="#333" stroke-opacity="0.6" stroke-width="0.6"/>
<circle cx="347.6" cy="762.0" r="6.3" fill="#9a169f" fill-opacity="0.8" stroke="#333" stroke-opacity="0.6" stroke-width="0.6"/>
<circle cx="267.6" cy="933.5" r="6.3" fill="#9a169f" fill-opacity="0.8" stroke="#333" stroke-opacity="0.6" stroke-width="0.6"/>
<circle cx="196.8" cy="906.3" r="6.3" fill="#9a169f" fill-opacity="0.8" stroke="#333" stroke-opacity="0.6" stroke-width="0.6"/>
<circle cx="154.6" cy="926.6" r="6.3" fill="#9a169f" fill-opacity="0.8" stroke="#333" stroke-opacity="0.6" stroke-width="0.6"/>
<circle cx="419.0" cy="924.6" r="6.3" fill="#9a169f" fill-opacity="0.8" stroke="#333" stroke-opacity="0.6" stroke-width="0.6"/>
<circle cx="359.0" cy="960.4" r="6.3" fill="#9a169f" fill-opacity="0.8" stroke="#333" stroke-opacity="0.6" stroke-width="0.6"/>
<circle cx="220.0" cy="912.4" r="6.3" fill="#ba3388" fill-opacity="0.8" stroke="#333" stroke-opacity="0.6" stroke-width="0.6"/>
<circle cx="166.3" cy="919.7" r="6.3" fill="#ba3388" fill-opacity="0.8" stroke="#333" stroke-opacity="0.6" stroke-width="0.6"/>
<circle cx="363.5" cy="945.9" r="6.3" fill="#ba3388" fill-opacity="0.8" stroke="#333" stroke-opacity="0.6" stroke-width="0.6"/>
<circle cx="266.2" cy="890.2" r="6.3" fill="#ce4b75" fill-opacity="0.8" stroke="#333" stroke-opacity="0.6" stroke-width="0.6"/>
<circle cx="279.6" cy="897.6" r="6.3" fill="#ce4b75" fill-opacity="0.8" stroke="#333" stroke-opacity="0.6" stroke-width="0.6"/>
<circle cx="300.7" cy="906.5" r="6.3" fill="#ce4b75" fill-opacity="0.8" stroke="#333" stroke-opacity="0.6" stroke-width="0.6"/>
<circle cx="292.8" cy="968.9" r="6.3" fill="#ce4b75" fill-opacity="0.8" stroke="#333" stroke-opacity="0.6" stroke-width="0.6"/>
<circle cx="213.5" cy="924.2" r="6.3" fill="#ce4b75" fill-opacity="0.8" stroke="#333" stroke-opacity="0.6" stroke-width="0.6"/>
<circle cx="364.5" cy="921.3" r="6.3" fill="#ce4b75" fill-opacity="0.8" stroke="#333" stroke-opacity="0.6" stroke-width="0.6"/>
<circle cx="348.7" cy="934.5" r="6.3" fill="#ce4b75" fill-opacity="0.8" stroke="#333" stroke-opacity="0.6" stroke-width="0.6"/>
<circle cx="477.5" cy="931.5" r="6.3" fill="#ce4b75" fill-opacity="0.8" stroke="#333" stroke-opacity="0.6" stroke-width="0.6"/>
<circle cx="413.5" cy="946.3" r="6.3" fill="#ce4b75" fill-opacity="0.8" stroke="#333" stroke-opacity="0.6" stroke-width="0.6"/>
<circle cx="373.2" cy="943.3" r="6.3" fill="#ce4b75" fill-opacity="0.8" stroke="#333" stroke-opacity="0.6" stroke-width="0.6"/>
<circle cx="263.7" cy="875.0" r="6.3" fill="#e06363" fill-opacity="0.8" stroke="#333" stroke-opacity="0.6" stroke-width="0.6"/>
<circle cx="302.7" cy="935.4" r="6.3" fill="#e06363" fill-opacity="0.8" stroke="#333" stroke-opacity="0.6" stroke-width="0.6"/>
<circle cx="393.4" cy="945.9" r="6.3" fill="#e06363" fill-opacity="0.8" stroke="#333" stroke-opacity="0.6" stroke-width="0.6"/>
<circle cx="342.8" cy="961.0" r="6.3" fill="#e06363" fill-opacity="0.8" stroke="#333" stroke-opacity="0.6" stroke-width="0.6"/>
<circle cx="188.5" cy="868.5" r="6.3" fill="#f79044" fill-opacity="0.8" stroke="#333" stroke-opacity="0.6" stroke-width="0.6"/>
<circle cx="327.5" cy="904.0" r="6.3" fill="#f79044" fill-opacity="0.8" stroke="#333" stroke-opacity="0.6" stroke-width="0.6"/>
<circle cx="459.4" cy="893.1" r="6.3" fill="#f79044" fill-opacity="0.8" stroke="#333" stroke-opacity="0.6" stroke-width="0.6"/>
<circle cx="337.3" cy="922.6" r="6.3" fill="#f79044" fill-opacity="0.8" stroke="#333" stroke-opacity="0.6" stroke-width="0.6"/>
<circle cx="261.3" cy="819.3" r="6.3" fill="#fdc229" fill-opacity="0.8" stroke="#333" stroke-opacity="0.6" stroke-width="0.6"/>
<circle cx="265.3" cy="817.7" r="6.3" fill="#fdc229" fill-opacity="0.8" stroke="#333" stroke-opacity="0.6" stroke-width="0.6"/>
<circle cx="257.0" cy="855.7" r="6.3" fill="#fdc229" fill-opacity="0.8" stroke="#333" stroke-opacity="0.6" stroke-width="0.6"/>
<circle cx="245.6" cy="879.9" r="6.3" fill="#fdc229" fill-opacity="0.8" stroke="#333" stroke-opacity="0.6" stroke-width="0.6"/>
<circle cx="277.5" cy="870.5" r="6.3" fill="#fdc229" fill-opacity="0.8" stroke="#333" stroke-opacity="0.6" stroke-width="0.6"/>
<circle cx="295.4" cy="894.1" r="6.3" fill="#fdc229" fill-opacity="0.8" stroke="#333" stroke-opacity="0.6" stroke-width="0.6"/>
<circle cx="301.7" cy="885.6" r="6.3" fill="#fdc229" fill-opacity="0.8" stroke="#333" stroke-opacity="0.6" stroke-width="0.6"/>
<circle cx="251.9" cy="904.5" r="6.3" fill="#fdc229" fill-opacity="0.8" stroke="#333" stroke-opacity="0.6" stroke-width="0.6"/>
<circle cx="288.3" cy="919.3" r="6.3" fill="#fdc229" fill-opacity="0.8" stroke="#333" stroke-opacity="0.6" stroke-width="0.6"/>
<circle cx="382.0" cy="880.3" r="6.3" fill="#fdc229" fill-opacity="0.8" stroke="#333" stroke-opacity="0.6" stroke-width="0.6"/>
<circle cx="325.5" cy="885.6" r="6.3" fill="#fdc229" fill-opacity="0.8" stroke="#333" stroke-opacity="0.6" stroke-width="0.6"/>
<circle cx="316.7" cy="896.1" r="6.3" fill="#fdc229" fill-opacity="0.8" stroke="#333" stroke-opacity="0.6" stroke-width="0.6"/>
<circle cx="324.5" cy="895.1" r="6.3" fill="#fdc229" fill-opacity="0.8" stroke="#333" stroke-opacity="0.6" stroke-width="0.6"/>
<circle cx="352.1" cy="901.4" r="6.3" fill="#fdc229" fill-opacity="0.8" stroke="#333" stroke-opacity="0.6" stroke-width="0.6"/>
<circle cx="369.8" cy="906.3" r="6.3" fill="#fdc229" fill-opacity="0.8" stroke="#333" stroke-opacity="0.6" stroke-width="0.6"/>
<circle cx="371.4" cy="910.2" r="6.3" fill="#fdc229" fill-opacity="0.8" stroke="#333" stroke-opacity="0.6" stroke-width="0.6"/>
<circle cx="360.0" cy="914.2" r="6.3" fill="#fdc229" fill-opacity="0.8" stroke="#333" stroke-opacity="0.6" stroke-width="0.6"/>
<circle cx="394.4" cy="936.8" r="6.3" fill="#fdc229" fill-opacity="0.8" stroke="#333" stroke-opacity="0.6" stroke-width="0.6"/>
<circle cx="285.9" cy="713.2" r="6.3" fill="#f1f525" fill-opacity="0.8" stroke="#333" stroke-opacity="0.6" stroke-width="0.6"/>
<circle cx="294.8" cy="730.9" r="6.3" fill="#f1f525" fill-opacity="0.8" stroke="#333" stroke-opacity="0.6" stroke-width="0.6"/>
<circle cx="303.6" cy="730.1" r="6.3" fill="#f1f525" fill-opacity="0.8" stroke="#333" stroke-opacity="0.6" stroke-width="0.6"/>
<circle cx="278.0" cy="741.3" r="6.3" fill="#f1f525" fill-opacity="0.8" stroke="#333" stroke-opacity="0.6" stroke-width="0.6"/>
<circle cx="289.9" cy="748.2" r="6.3" fill="#f1f525" fill-opacity="0.8" stroke="#333" stroke-opacity="0.6" stroke-width="0.6"/>
<circle cx="266.8" cy="780.7" r="6.3" fill="#f1f525" fill-opacity="0.8" stroke="#333" stroke-opacity="0.6" stroke-width="0.6"/>
<circle cx="325.1" cy="602.6" r="6.3" fill="#f1f525" fill-opacity="0.8" stroke="#333" stroke-opacity="0.6" stroke-width="0.6"/>
<circle cx="363.9" cy="675.4" r="6.3" fill="#f1f525" fill-opacity="0.8" stroke="#333" stroke-opacity="0.6" stroke-width="0.6"/>
<circle cx="389.5" cy="685.8" r="6.3" fill="#f1f525" fill-opacity="0.8" stroke="#333" stroke-opacity="0.6" stroke-width="0.6"/>
<circle cx="386.1" cy="694.7" r="6.3" fill="#f1f525" fill-opacity="0.8" stroke="#333" stroke-opacity="0.6" stroke-width="0.6"/>
<circle cx="318.6" cy="704.5" r="6.3" fill="#f1f525" fill-opacity="0.8" stroke="#333" stroke-opacity="0.6" stroke-width="0.6"/>
<circle cx="363.5" cy="722.0" r="6.3" fill="#f1f525" fill-opacity="0.8" stroke="#333" stroke-opacity="0.6" stroke-width="0.6"/>
<circle cx="314.7" cy="740.0" r="6.3" fill="#f1f525" fill-opacity="0.8" stroke="#333" stroke-opacity="0.6" stroke-width="0.6"/>
<circle cx="320.6" cy="739.4" r="6.3" fill="#f1f525" fill-opacity="0.8" stroke="#333" stroke-opacity="0.6" stroke-width="0.6"/>
<circle cx="329.9" cy="753.7" r="6.3" fill="#f1f525" fill-opacity="0.8" stroke="#333" stroke-opacity="0.6" stroke-width="0.6"/>
<circle cx="318.6" cy="762.6" r="6.3" fill="#f1f525" fill-opacity="0.8" stroke="#333" stroke-opacity="0.6" stroke-width="0.6"/>
<circle cx="385.9" cy="755.7" r="6.3" fill="#f1f525" fill-opacity="0.8" stroke="#333" stroke-opacity="0.6" stroke-width="0.6"/>
<circle cx="266.2" cy="805.0" r="6.3" fill="#f1f525" fill-opacity="0.8" stroke="#333" stroke-opacity="0.6" stroke-width="0.6"/>
<circle cx="283.4" cy="826.8" r="6.3" fill="#f1f525" fill-opacity="0.8" stroke="#333" stroke-opacity="0.6" stroke-width="0.6"/>
<circle cx="281.4" cy="851.0" r="6.3" fill="#f1f525" fill-opacity="0.8" stroke="#333" stroke-opacity="0.6" stroke-width="0.6"/>
<circle cx="289.9" cy="853.8" r="6.3" fill="#f1f525" fill-opacity="0.8" stroke="#333" stroke-opacity="0.6" stroke-width="0.6"/>
<circle cx="283.0" cy="872.5" r="6.3" fill="#f1f525" fill-opacity="0.8" stroke="#333" stroke-opacity="0.6" stroke-width="0.6"/>
<circle cx="298.3" cy="869.5" r="6.3" fill="#f1f525" fill-opacity="0.8" stroke="#333" stroke-opacity="0.6" stroke-width="0.6"/>
<circle cx="310.8" cy="790.4" r="6.3" fill="#f1f525" fill-opacity="0.8" stroke="#333" stroke-opacity="0.6" stroke-width="0.6"/>
<circle cx="315.7" cy="792.4" r="6.3" fill="#f1f525" fill-opacity="0.8" stroke="#333" stroke-opacity="0.6" stroke-width="0.6"/>
<circle cx="323.6" cy="790.4" r="6.3" fill="#f1f525" fill-opacity="0.8" stroke="#333" stroke-opacity="0.6" stroke-width="0.6"/>
<circle cx="339.7" cy="791.8" r="6.3" fill="#f1f525" fill-opacity="0.8" stroke="#333" stroke-opacity="0.6" stroke-width="0.6"/>
<circle cx="332.4" cy="808.5" r="6.3" fill="#f1f525" fill-opacity="0.8" stroke="#333" stroke-opacity="0.6" stroke-width="0.6"/>
<circle cx="332.4" cy="817.3" r="6.3" fill="#f1f525" fill-opacity="0.8" stroke="#333" stroke-opacity="0.6" stroke-width="0.6"/>
<circle cx="330.4" cy="819.9" r="6.3" fill="#f1f525" fill-opacity="0.8" stroke="#333" stroke-opacity="0.6" stroke-width="0.6"/>
<circle cx="367.8" cy="821.3" r="6.3" fill="#f1f525" fill-opacity="0.8" stroke="#333" stroke-opacity="0.6" stroke-width="0.6"/>
<circle cx="377.3" cy="810.1" r="6.3" fill="#f1f525" fill-opacity="0.8" stroke="#333" stroke-opacity="0.6" stroke-width="0.6"/>
<circle cx="337.9" cy="832.7" r="6.3" fill="#f1f525" fill-opacity="0.8" stroke="#333" stroke-opacity="0.6" stroke-width="0.6"/>
<circle cx="399.3" cy="840.0" r="6.3" fill="#f1f525" fill-opacity="0.8" stroke="#333" stroke-opacity="0.6" stroke-width="0.6"/>
<circle cx="334.4" cy="846.3" r="6.3" fill="#f1f525" fill-opacity="0.8" stroke="#333" stroke-opacity="0.6" stroke-width="0.6"/>
<circle cx="337.3" cy="848.8" r="6.3" fill="#f1f525" fill-opacity="0.8" stroke="#333" stroke-opacity="0.6" stroke-width="0.6"/>
<circle cx="346.8" cy="858.7" r="6.3" fill="#f1f525" fill-opacity="0.8" stroke="#333" stroke-opacity="0.6" stroke-width="0.6"/>
<circle cx="361.5" cy="862.6" r="6.3" fill="#f1f525" fill-opacity="0.8" stroke="#333" stroke-opacity="0.6" stroke-width="0.6"/>
<circle cx="371.2" cy="858.7" r="6.3" fill="#f1f525" fill-opacity="0.8" stroke="#333" stroke-opacity="0.6" stroke-width="0.6"/>
<circle cx="337.3" cy="863.0" r="6.3" fill="#f1f525" fill-opacity="0.8" stroke="#333" stroke-opacity="0.6" stroke-width="0.6"/>
<circle cx="338.3" cy="873.8" r="6.3" fill="#f1f525" fill-opacity="0.8" stroke="#333" stroke-opacity="0.6" stroke-width="0.6"/>
<circle cx="310.4" cy="865.0" r="6.3" fill="#f1f525" fill-opacity="0.8" stroke="#333" stroke-opacity="0.6" stroke-width="0.6"/>
<circle cx="310.8" cy="871.5" r="6.3" fill="#f1f525" fill-opacity="0.8" stroke="#333" stroke-opacity="0.6" stroke-width="0.6"/>
<path d="M319.2 1000.4V577.4" stroke="#000" stroke-width="5.5" stroke-dasharray="5.5 9.2" fill="none"/>
</g>
<path d="M146.80 1000.4v-8.33M146.80 577.4v8.33M244.60 1000.4v-8.33M244.60 577.4v8.33M342.40 1000.4v-8.33M342.40 577.4v8.33M440.20 1000.4v-8.33M440.20 577.4v8.33M107.68 1000.4v-4.17M107.68 577.4v4.17M127.24 1000.4v-4.17M127.24 577.4v4.17M146.80 1000.4v-4.17M146.80 577.4v4.17M166.36 1000.4v-4.17M166.36 577.4v4.17M185.92 1000.4v-4.17M185.92 577.4v4.17M205.48 1000.4v-4.17M205.48 577.4v4.17M225.04 1000.4v-4.17M225.04 577.4v4.17M244.60 1000.4v-4.17M244.60 577.4v4.17M264.16 1000.4v-4.17M264.16 577.4v4.17M283.72 1000.4v-4.17M283.72 577.4v4.17M303.28 1000.4v-4.17M303.28 577.4v4.17M322.84 1000.4v-4.17M322.84 577.4v4.17M342.40 1000.4v-4.17M342.40 577.4v4.17M361.96 1000.4v-4.17M361.96 577.4v4.17M381.52 1000.4v-4.17M381.52 577.4v4.17M401.08 1000.4v-4.17M401.08 577.4v4.17M420.64 1000.4v-4.17M420.64 577.4v4.17M440.20 1000.4v-4.17M440.20 577.4v4.17M459.76 1000.4v-4.17M459.76 577.4v4.17M479.32 1000.4v-4.17M479.32 577.4v4.17M498.88 1000.4v-4.17M498.88 577.4v4.17M96.2 596.50h8.33M513.4 596.50h-8.33M96.2 647.70h8.33M513.4 647.70h-8.33M96.2 698.90h8.33M513.4 698.90h-8.33M96.2 750.10h8.33M513.4 750.10h-8.33M96.2 801.30h8.33M513.4 801.30h-8.33M96.2 852.50h8.33M513.4 852.50h-8.33M96.2 903.70h8.33M513.4 903.70h-8.33M96.2 954.90h8.33M513.4 954.90h-8.33M96.2 586.26h4.17M513.4 586.26h-4.17M96.2 596.50h4.17M513.4 596.50h-4.17M96.2 606.74h4.17M513.4 606.74h-4.17M96.2 616.98h4.17M513.4 616.98h-4.17M96.2 627.22h4.17M513.4 627.22h-4.17M96.2 637.46h4.17M513.4 637.46h-4.17M96.2 647.70h4.17M513.4 647.70h-4.17M96.2 657.94h4.17M513.4 657.94h-4.17M96.2 668.18h4.17M513.4 668.18h-4.17M96.2 678.42h4.17M513.4 678.42h-4.17M96.2 688.66h4.17M513.4 688.66h-4.17M96.2 698.90h4.17M513.4 698.90h-4.17M96.2 709.14h4.17M513.4 709.14h-4.17M96.2 719.38h4.17M513.4 719.38h-4.17M96.2 729.62h4.17M513.4 729.62h-4.17M96.2 739.86h4.17M513.4 739.86h-4.17M96.2 750.10h4.17M513.4 750.10h-4.17M96.2 760.34h4.17M513.4 760.34h-4.17M96.2 770.58h4.17M513.4 770.58h-4.17M96.2 780.82h4.17M513.4 780.82h-4.17M96.2 791.06h4.17M513.4 791.06h-4.17M96.2 801.30h4.17M513.4 801.30h-4.17M96.2 811.54h4.17M513.4 811.54h-4.17M96.2 821.78h4.17M513.4 821.78h-4.17M96.2 832.02h4.17M513.4 832.02h-4.17M96.2 842.26h4.17M513.4 842.26h-4.17M96.2 852.50h4.17M513.4 852.50h-4.17M96.2 862.74h4.17M513.4 862.74h-4.17M96.2 872.98h4.17M513.4 872.98h-4.17M96.2 883.22h4.17M513.4 883.22h-4.17M96.2 893.46h4.17M513.4 893.46h-4.17M96.2 903.70h4.17M513.4 903.70h-4.17M96.2 913.94h4.17M513.4 913.94h-4.17M96.2 924.18h4.17M513.4 924.18h-4.17M96.2 934.42h4.17M513.4 934.42h-4.17M96.2 944.66h4.17M513.4 944.66h-4.17M96.2 954.90h4.17M513.4 954.90h-4.17M96.2 965.14h4.17M513.4 965.14h-4.17M96.2 975.38h4.17M513.4 975.38h-4.17M96.2 985.62h4.17M513.4 985.62h-4.17M96.2 995.86h4.17M513.4 995.86h-4.17" stroke="#000" stroke-width="1.39" fill="none"/>
<rect x="96.2" y="577.4" width="417.2" height="423.0" stroke="#000" stroke-width="1.39" fill="none"/>
<g font-size="19.44px" letter-spacing="-0.3px">
<text x="145.90" y="1025.50" text-anchor="middle">0.3</text>
<text x="243.70" y="1025.50" text-anchor="middle">0.4</text>
<text x="341.50" y="1025.50" text-anchor="middle">0.5</text>
<text x="439.30" y="1025.50" text-anchor="middle">0.6</text>
<text x="85.10" y="604.10" text-anchor="end">11</text>
<text x="85.10" y="655.30" text-anchor="end">12</text>
<text x="85.10" y="706.50" text-anchor="end">13</text>
<text x="85.10" y="757.70" text-anchor="end">14</text>
<text x="85.10" y="808.90" text-anchor="end">15</text>
<text x="85.10" y="860.10" text-anchor="end">16</text>
<text x="85.10" y="911.30" text-anchor="end">17</text>
<text x="85.10" y="962.50" text-anchor="end">18</text>
</g>
<text x="304.80" y="1054.90" text-anchor="middle" font-size="19.44px">Plx [mas]</text>
<text transform="translate(46.30,790.70) rotate(-90)" text-anchor="middle" font-size="19.44px">G [mag]</text>
<clipPath id="c613_577"><rect x="613.4" y="577.4" width="416.80000000000007" height="423.0"/></clipPath>
<g clip-path="url(#c613_577)">
<circle cx="883.3" cy="867.9" r="6.3" fill="#240691" fill-opacity="0.8" stroke="#333" stroke-opacity="0.6" stroke-width="0.6"/>
<circle cx="915.6" cy="920.0" r="6.3" fill="#240691" fill-opacity="0.8" stroke="#333" stroke-opacity="0.6" stroke-width="0.6"/>
<circle cx="920.0" cy="931.0" r="6.3" fill="#240691" fill-opacity="0.8" stroke="#333" stroke-opacity="0.6" stroke-width="0.6"/>
<circle cx="961.1" cy="932.6" r="6.3" fill="#240691" fill-opacity="0.8" stroke="#333" stroke-opacity="0.6" stroke-width="0.6"/>
<circle cx="853.1" cy="935.4" r="6.3" fill="#240691" fill-opacity="0.8" stroke="#333" stroke-opacity="0.6" stroke-width="0.6"/>
<circle cx="961.6" cy="968.7" r="6.3" fill="#240691" fill-opacity="0.8" stroke="#333" stroke-opacity="0.6" stroke-width="0.6"/>
<circle cx="973.0" cy="974.1" r="6.3" fill="#240691" fill-opacity="0.8" stroke="#333" stroke-opacity="0.6" stroke-width="0.6"/>
<circle cx="975.9" cy="975.5" r="6.3" fill="#240691" fill-opacity="0.8" stroke="#333" stroke-opacity="0.6" stroke-width="0.6"/>
<circle cx="702.0" cy="689.6" r="6.3" fill="#5e01a6" fill-opacity="0.8" stroke="#333" stroke-opacity="0.6" stroke-width="0.6"/>
<circle cx="846.6" cy="841.4" r="6.3" fill="#5e01a6" fill-opacity="0.8" stroke="#333" stroke-opacity="0.6" stroke-width="0.6"/>
<circle cx="948.0" cy="928.6" r="6.3" fill="#5e01a6" fill-opacity="0.8" stroke="#333" stroke-opacity="0.6" stroke-width="0.6"/>
<circle cx="850.2" cy="938.4" r="6.3" fill="#5e01a6" fill-opacity="0.8" stroke="#333" stroke-opacity="0.6" stroke-width="0.6"/>
<circle cx="838.4" cy="963.0" r="6.3" fill="#5e01a6" fill-opacity="0.8" stroke="#333" stroke-opacity="0.6" stroke-width="0.6"/>
<circle cx="969.6" cy="962.2" r="6.3" fill="#5e01a6" fill-opacity="0.8" stroke="#333" stroke-opacity="0.6" stroke-width="0.6"/>
<circle cx="1011.2" cy="987.0" r="6.3" fill="#5e01a6" fill-opacity="0.8" stroke="#333" stroke-opacity="0.6" stroke-width="0.6"/>
<circle cx="906.7" cy="905.5" r="6.3" fill="#7e03a8" fill-opacity="0.8" stroke="#333" stroke-opacity="0.6" stroke-width="0.6"/>
<circle cx="697.6" cy="747.8" r="6.3" fill="#9a169f" fill-opacity="0.8" stroke="#333" stroke-opacity="0.6" stroke-width="0.6"/>
<circle cx="714.4" cy="762.4" r="6.3" fill="#9a169f" fill-opacity="0.8" stroke="#333" stroke-opacity="0.6" stroke-width="0.6"/>
<circle cx="851.2" cy="912.4" r="6.3" fill="#9a169f" fill-opacity="0.8" stroke="#333" stroke-opacity="0.6" stroke-width="0.6"/>
<circle cx="926.2" cy="926.5" r="6.3" fill="#9a169f" fill-opacity="0.8" stroke="#333" stroke-opacity="0.6" stroke-width="0.6"/>
<circle cx="939.9" cy="923.9" r="6.3" fill="#9a169f" fill-opacity="0.8" stroke="#333" stroke-opacity="0.6" stroke-width="0.6"/>
<circle cx="953.5" cy="920.1" r="6.3" fill="#9a169f" fill-opacity="0.8" stroke="#333" stroke-opacity="0.6" stroke-width="0.6"/>
<circle cx="944.2" cy="960.2" r="6.3" fill="#9a169f" fill-opacity="0.8" stroke="#333" stroke-opacity="0.6" stroke-width="0.6"/>
<circle cx="956.0" cy="933.6" r="6.3" fill="#ba3388" fill-opacity="0.8" stroke="#333" stroke-opacity="0.6" stroke-width="0.6"/>
<circle cx="903.3" cy="875.7" r="6.3" fill="#ce4b75" fill-opacity="0.8" stroke="#333" stroke-opacity="0.6" stroke-width="0.6"/>
<circle cx="883.1" cy="890.4" r="6.3" fill="#ce4b75" fill-opacity="0.8" stroke="#333" stroke-opacity="0.6" stroke-width="0.6"/>
<circle cx="897.1" cy="907.5" r="6.3" fill="#ce4b75" fill-opacity="0.8" stroke="#333" stroke-opacity="0.6" stroke-width="0.6"/>
<circle cx="913.9" cy="923.5" r="6.3" fill="#ce4b75" fill-opacity="0.8" stroke="#333" stroke-opacity="0.6" stroke-width="0.6"/>
<circle cx="941.0" cy="931.4" r="6.3" fill="#ce4b75" fill-opacity="0.8" stroke="#333" stroke-opacity="0.6" stroke-width="0.6"/>
<circle cx="943.6" cy="943.3" r="6.3" fill="#ce4b75" fill-opacity="0.8" stroke="#333" stroke-opacity="0.6" stroke-width="0.6"/>
<circle cx="998.5" cy="946.1" r="6.3" fill="#ce4b75" fill-opacity="0.8" stroke="#333" stroke-opacity="0.6" stroke-width="0.6"/>
<circle cx="954.4" cy="969.2" r="6.3" fill="#ce4b75" fill-opacity="0.8" stroke="#333" stroke-opacity="0.6" stroke-width="0.6"/>
<circle cx="938.2" cy="897.7" r="6.3" fill="#e06363" fill-opacity="0.8" stroke="#333" stroke-opacity="0.6" stroke-width="0.6"/>
<circle cx="908.2" cy="935.3" r="6.3" fill="#e06363" fill-opacity="0.8" stroke="#333" stroke-opacity="0.6" stroke-width="0.6"/>
<circle cx="932.0" cy="945.6" r="6.3" fill="#e06363" fill-opacity="0.8" stroke="#333" stroke-opacity="0.6" stroke-width="0.6"/>
<circle cx="962.4" cy="946.2" r="6.3" fill="#e06363" fill-opacity="0.8" stroke="#333" stroke-opacity="0.6" stroke-width="0.6"/>
<circle cx="978.7" cy="960.9" r="6.3" fill="#e06363" fill-opacity="0.8" stroke="#333" stroke-opacity="0.6" stroke-width="0.6"/>
<circle cx="772.4" cy="819.9" r="6.3" fill="#f79044" fill-opacity="0.8" stroke="#333" stroke-opacity="0.6" stroke-width="0.6"/>
<circle cx="897.7" cy="892.6" r="6.3" fill="#f79044" fill-opacity="0.8" stroke="#333" stroke-opacity="0.6" stroke-width="0.6"/>
<circle cx="914.2" cy="902.8" r="6.3" fill="#f79044" fill-opacity="0.8" stroke="#333" stroke-opacity="0.6" stroke-width="0.6"/>
<circle cx="903.3" cy="923.0" r="6.3" fill="#f79044" fill-opacity="0.8" stroke="#333" stroke-opacity="0.6" stroke-width="0.6"/>
<circle cx="843.7" cy="855.7" r="6.3" fill="#fdc229" fill-opacity="0.8" stroke="#333" stroke-opacity="0.6" stroke-width="0.6"/>
<circle cx="850.6" cy="880.3" r="6.3" fill="#fdc229" fill-opacity="0.8" stroke="#333" stroke-opacity="0.6" stroke-width="0.6"/>
<circle cx="897.1" cy="869.6" r="6.3" fill="#fdc229" fill-opacity="0.8" stroke="#333" stroke-opacity="0.6" stroke-width="0.6"/>
<circle cx="880.8" cy="880.2" r="6.3" fill="#fdc229" fill-opacity="0.8" stroke="#333" stroke-opacity="0.6" stroke-width="0.6"/>
<circle cx="876.9" cy="885.9" r="6.3" fill="#fdc229" fill-opacity="0.8" stroke="#333" stroke-opacity="0.6" stroke-width="0.6"/>
<circle cx="911.7" cy="894.3" r="6.3" fill="#fdc229" fill-opacity="0.8" stroke="#333" stroke-opacity="0.6" stroke-width="0.6"/>
<circle cx="877.5" cy="901.4" r="6.3" fill="#fdc229" fill-opacity="0.8" stroke="#333" stroke-opacity="0.6" stroke-width="0.6"/>
<circle cx="871.2" cy="914.2" r="6.3" fill="#fdc229" fill-opacity="0.8" stroke="#333" stroke-opacity="0.6" stroke-width="0.6"/>
<circle cx="898.3" cy="904.6" r="6.3" fill="#fdc229" fill-opacity="0.8" stroke="#333" stroke-opacity="0.6" stroke-width="0.6"/>
<circle cx="913.3" cy="909.8" r="6.3" fill="#fdc229" fill-opacity="0.8" stroke="#333" stroke-opacity="0.6" stroke-width="0.6"/>
<circle cx="942.1" cy="893.9" r="6.3" fill="#fdc229" fill-opacity="0.8" stroke="#333" stroke-opacity="0.6" stroke-width="0.6"/>
<circle cx="967.4" cy="906.4" r="6.3" fill="#fdc229" fill-opacity="0.8" stroke="#333" stroke-opacity="0.6" stroke-width="0.6"/>
<circle cx="901.4" cy="919.0" r="6.3" fill="#fdc229" fill-opacity="0.8" stroke="#333" stroke-opacity="0.6" stroke-width="0.6"/>
<circle cx="916.2" cy="937.5" r="6.3" fill="#fdc229" fill-opacity="0.8" stroke="#333" stroke-opacity="0.6" stroke-width="0.6"/>
<circle cx="804.3" cy="817.7" r="6.3" fill="#fbd724" fill-opacity="0.8" stroke="#333" stroke-opacity="0.6" stroke-width="0.6"/>
<circle cx="646.5" cy="602.6" r="6.3" fill="#f1f525" fill-opacity="0.8" stroke="#333" stroke-opacity="0.6" stroke-width="0.6"/>
<circle cx="674.6" cy="675.4" r="6.3" fill="#f1f525" fill-opacity="0.8" stroke="#333" stroke-opacity="0.6" stroke-width="0.6"/>
<circle cx="679.5" cy="686.2" r="6.3" fill="#f1f525" fill-opacity="0.8" stroke="#333" stroke-opacity="0.6" stroke-width="0.6"/>
<circle cx="669.5" cy="694.5" r="6.3" fill="#f1f525" fill-opacity="0.8" stroke="#333" stroke-opacity="0.6" stroke-width="0.6"/>
<circle cx="669.5" cy="704.5" r="6.3" fill="#f1f525" fill-opacity="0.8" stroke="#333" stroke-opacity="0.6" stroke-width="0.6"/>
<circle cx="654.3" cy="712.8" r="6.3" fill="#f1f525" fill-opacity="0.8" stroke="#333" stroke-opacity="0.6" stroke-width="0.6"/>
<circle cx="632.3" cy="722.0" r="6.3" fill="#f1f525" fill-opacity="0.8" stroke="#333" stroke-opacity="0.6" stroke-width="0.6"/>
<circle cx="647.5" cy="729.9" r="6.3" fill="#f1f525" fill-opacity="0.8" stroke="#333" stroke-opacity="0.6" stroke-width="0.6"/>
<circle cx="653.4" cy="730.9" r="6.3" fill="#f1f525" fill-opacity="0.8" stroke="#333" stroke-opacity="0.6" stroke-width="0.6"/>
<circle cx="698.0" cy="739.4" r="6.3" fill="#f1f525" fill-opacity="0.8" stroke="#333" stroke-opacity="0.6" stroke-width="0.6"/>
<circle cx="696.3" cy="748.6" r="6.3" fill="#f1f525" fill-opacity="0.8" stroke="#333" stroke-opacity="0.6" stroke-width="0.6"/>
<circle cx="726.2" cy="740.4" r="6.3" fill="#f1f525" fill-opacity="0.8" stroke="#333" stroke-opacity="0.6" stroke-width="0.6"/>
<circle cx="729.1" cy="741.7" r="6.3" fill="#f1f525" fill-opacity="0.8" stroke="#333" stroke-opacity="0.6" stroke-width="0.6"/>
<circle cx="715.4" cy="755.7" r="6.3" fill="#f1f525" fill-opacity="0.8" stroke="#333" stroke-opacity="0.6" stroke-width="0.6"/>
<circle cx="722.8" cy="762.6" r="6.3" fill="#f1f525" fill-opacity="0.8" stroke="#333" stroke-opacity="0.6" stroke-width="0.6"/>
<circle cx="751.2" cy="753.7" r="6.3" fill="#f1f525" fill-opacity="0.8" stroke="#333" stroke-opacity="0.6" stroke-width="0.6"/>
<circle cx="757.3" cy="780.3" r="6.3" fill="#f1f525" fill-opacity="0.8" stroke="#333" stroke-opacity="0.6" stroke-width="0.6"/>
<circle cx="709.8" cy="790.4" r="6.3" fill="#f1f525" fill-opacity="0.8" stroke="#333" stroke-opacity="0.6" stroke-width="0.6"/>
<circle cx="731.7" cy="792.2" r="6.3" fill="#f1f525" fill-opacity="0.8" stroke="#333" stroke-opacity="0.6" stroke-width="0.6"/>
<circle cx="737.6" cy="790.4" r="6.3" fill="#f1f525" fill-opacity="0.8" stroke="#333" stroke-opacity="0.6" stroke-width="0.6"/>
<circle cx="756.1" cy="810.1" r="6.3" fill="#f1f525" fill-opacity="0.8" stroke="#333" stroke-opacity="0.6" stroke-width="0.6"/>
<circle cx="770.5" cy="808.5" r="6.3" fill="#f1f525" fill-opacity="0.8" stroke="#333" stroke-opacity="0.6" stroke-width="0.6"/>
<circle cx="779.3" cy="816.4" r="6.3" fill="#f1f525" fill-opacity="0.8" stroke="#333" stroke-opacity="0.6" stroke-width="0.6"/>
<circle cx="813.8" cy="804.6" r="6.3" fill="#f1f525" fill-opacity="0.8" stroke="#333" stroke-opacity="0.6" stroke-width="0.6"/>
<circle cx="796.1" cy="826.8" r="6.3" fill="#f1f525" fill-opacity="0.8" stroke="#333" stroke-opacity="0.6" stroke-width="0.6"/>
<circle cx="817.1" cy="821.3" r="6.3" fill="#f1f525" fill-opacity="0.8" stroke="#333" stroke-opacity="0.6" stroke-width="0.6"/>
<circle cx="810.4" cy="833.1" r="6.3" fill="#f1f525" fill-opacity="0.8" stroke="#333" stroke-opacity="0.6" stroke-width="0.6"/>
<circle cx="811.8" cy="840.0" r="6.3" fill="#f1f525" fill-opacity="0.8" stroke="#333" stroke-opacity="0.6" stroke-width="0.6"/>
<circle cx="819.7" cy="848.8" r="6.3" fill="#f1f525" fill-opacity="0.8" stroke="#333" stroke-opacity="0.6" stroke-width="0.6"/>
<circle cx="825.2" cy="818.9" r="6.3" fill="#f1f525" fill-opacity="0.8" stroke="#333" stroke-opacity="0.6" stroke-width="0.6"/>
<circle cx="831.5" cy="820.3" r="6.3" fill="#f1f525" fill-opacity="0.8" stroke="#333" stroke-opacity="0.6" stroke-width="0.6"/>
<circle cx="843.3" cy="846.3" r="6.3" fill="#f1f525" fill-opacity="0.8" stroke="#333" stroke-opacity="0.6" stroke-width="0.6"/>
<circle cx="857.5" cy="853.4" r="6.3" fill="#f1f525" fill-opacity="0.8" stroke="#333" stroke-opacity="0.6" stroke-width="0.6"/>
<circle cx="881.3" cy="850.8" r="6.3" fill="#f1f525" fill-opacity="0.8" stroke="#333" stroke-opacity="0.6" stroke-width="0.6"/>
<circle cx="831.5" cy="858.3" r="6.3" fill="#f1f525" fill-opacity="0.8" stroke="#333" stroke-opacity="0.6" stroke-width="0.6"/>
<circle cx="836.4" cy="858.7" r="6.3" fill="#f1f525" fill-opacity="0.8" stroke="#333" stroke-opacity="0.6" stroke-width="0.6"/>
<circle cx="851.6" cy="863.6" r="6.3" fill="#f1f525" fill-opacity="0.8" stroke="#333" stroke-opacity="0.6" stroke-width="0.6"/>
<circle cx="862.0" cy="865.2" r="6.3" fill="#f1f525" fill-opacity="0.8" stroke="#333" stroke-opacity="0.6" stroke-width="0.6"/>
<circle cx="871.4" cy="862.2" r="6.3" fill="#f1f525" fill-opacity="0.8" stroke="#333" stroke-opacity="0.6" stroke-width="0.6"/>
<circle cx="830.1" cy="870.5" r="6.3" fill="#f1f525" fill-opacity="0.8" stroke="#333" stroke-opacity="0.6" stroke-width="0.6"/>
<circle cx="841.7" cy="869.5" r="6.3" fill="#f1f525" fill-opacity="0.8" stroke="#333" stroke-opacity="0.6" stroke-width="0.6"/>
<circle cx="879.7" cy="872.5" r="6.3" fill="#f1f525" fill-opacity="0.8" stroke="#333" stroke-opacity="0.6" stroke-width="0.6"/>
<circle cx="899.9" cy="872.9" r="6.3" fill="#f1f525" fill-opacity="0.8" stroke="#333" stroke-opacity="0.6" stroke-width="0.6"/>
</g>
<path d="M656.80 1000.4v-8.33M656.80 577.4v8.33M731.22 1000.4v-8.33M731.22 577.4v8.33M805.65 1000.4v-8.33M805.65 577.4v8.33M880.07 1000.4v-8.33M880.07 577.4v8.33M954.50 1000.4v-8.33M954.50 577.4v8.33M1028.92 1000.4v-8.33M1028.92 577.4v8.33M627.03 1000.4v-4.17M627.03 577.4v4.17M641.91 1000.4v-4.17M641.91 577.4v4.17M656.80 1000.4v-4.17M656.80 577.4v4.17M671.68 1000.4v-4.17M671.68 577.4v4.17M686.57 1000.4v-4.17M686.57 577.4v4.17M701.45 1000.4v-4.17M701.45 577.4v4.17M716.34 1000.4v-4.17M716.34 577.4v4.17M731.22 1000.4v-4.17M731.22 577.4v4.17M746.11 1000.4v-4.17M746.11 577.4v4.17M760.99 1000.4v-4.17M760.99 577.4v4.17M775.88 1000.4v-4.17M775.88 577.4v4.17M790.76 1000.4v-4.17M790.76 577.4v4.17M805.65 1000.4v-4.17M805.65 577.4v4.17M820.53 1000.4v-4.17M820.53 577.4v4.17M835.42 1000.4v-4.17M835.42 577.4v4.17M850.30 1000.4v-4.17M850.30 577.4v4.17M865.19 1000.4v-4.17M865.19 577.4v4.17M880.07 1000.4v-4.17M880.07 577.4v4.17M894.96 1000.4v-4.17M894.96 577.4v4.17M909.85 1000.4v-4.17M909.85 577.4v4.17M924.73 1000.4v-4.17M924.73 577.4v4.17M939.62 1000.4v-4.17M939.62 577.4v4.17M954.50 1000.4v-4.17M954.50 577.4v4.17M969.38 1000.4v-4.17M969.38 577.4v4.17M984.27 1000.4v-4.17M984.27 577.4v4.17M999.15 1000.4v-4.17M999.15 577.4v4.17M1014.04 1000.4v-4.17M1014.04 577.4v4.17M1028.92 1000.4v-4.17M1028.92 577.4v4.17M613.4 596.50h8.33M1030.2 596.50h-8.33M613.4 647.70h8.33M1030.2 647.70h-8.33M613.4 698.90h8.33M1030.2 698.90h-8.33M613.4 750.10h8.33M1030.2 750.10h-8.33M613.4 801.30h8.33M1030.2 801.30h-8.33M613.4 852.50h8.33M1030.2 852.50h-8.33M613.4 903.70h8.33M1030.2 903.70h-8.33M613.4 954.90h8.33M1030.2 954.90h-8.33M613.4 586.26h4.17M1030.2 586.26h-4.17M613.4 596.50h4.17M1030.2 596.50h-4.17M613.4 606.74h4.17M1030.2 606.74h-4.17M613.4 616.98h4.17M1030.2 616.98h-4.17M613.4 627.22h4.17M1030.2 627.22h-4.17M613.4 637.46h4.17M1030.2 637.46h-4.17M613.4 647.70h4.17M1030.2 647.70h-4.17M613.4 657.94h4.17M1030.2 657.94h-4.17M613.4 668.18h4.17M1030.2 668.18h-4.17M613.4 678.42h4.17M1030.2 678.42h-4.17M613.4 688.66h4.17M1030.2 688.66h-4.17M613.4 698.90h4.17M1030.2 698.90h-4.17M613.4 709.14h4.17M1030.2 709.14h-4.17M613.4 719.38h4.17M1030.2 719.38h-4.17M613.4 729.62h4.17M1030.2 729.62h-4.17M613.4 739.86h4.17M1030.2 739.86h-4.17M613.4 750.10h4.17M1030.2 750.10h-4.17M613.4 760.34h4.17M1030.2 760.34h-4.17M613.4 770.58h4.17M1030.2 770.58h-4.17M613.4 780.82h4.17M1030.2 780.82h-4.17M613.4 791.06h4.17M1030.2 791.06h-4.17M613.4 801.30h4.17M1030.2 801.30h-4.17M613.4 811.54h4.17M1030.2 811.54h-4.17M613.4 821.78h4.17M1030.2 821.78h-4.17M613.4 832.02h4.17M1030.2 832.02h-4.17M613.4 842.26h4.17M1030.2 842.26h-4.17M613.4 852.50h4.17M1030.2 852.50h-4.17M613.4 862.74h4.17M1030.2 862.74h-4.17M613.4 872.98h4.17M1030.2 872.98h-4.17M613.4 883.22h4.17M1030.2 883.22h-4.17M613.4 893.46h4.17M1030.2 893.46h-4.17M613.4 903.70h4.17M1030.2 903.70h-4.17M613.4 913.94h4.17M1030.2 913.94h-4.17M613.4 924.18h4.17M1030.2 924.18h-4.17M613.4 934.42h4.17M1030.2 934.42h-4.17M613.4 944.66h4.17M1030.2 944.66h-4.17M613.4 954.90h4.17M1030.2 954.90h-4.17M613.4 965.14h4.17M1030.2 965.14h-4.17M613.4 975.38h4.17M1030.2 975.38h-4.17M613.4 985.62h4.17M1030.2 985.62h-4.17M613.4 995.86h4.17M1030.2 995.86h-4.17" stroke="#000" stroke-width="1.39" fill="none"/>
<rect x="613.4" y="577.4" width="416.80000000000007" height="423.0" stroke="#000" stroke-width="1.39" fill="none"/>
<g font-size="19.44px" letter-spacing="-0.3px">
<text x="655.90" y="1025.50" text-anchor="middle">0.50</text>
<text x="730.32" y="1025.50" text-anchor="middle">0.75</text>
<text x="804.75" y="1025.50" text-anchor="middle">1.00</text>
<text x="879.17" y="1025.50" text-anchor="middle">1.25</text>
<text x="953.60" y="1025.50" text-anchor="middle">1.50</text>
<text x="1028.02" y="1025.50" text-anchor="middle">1.75</text>
<text x="602.30" y="604.10" text-anchor="end">11</text>
<text x="602.30" y="655.30" text-anchor="end">12</text>
<text x="602.30" y="706.50" text-anchor="end">13</text>
<text x="602.30" y="757.70" text-anchor="end">14</text>
<text x="602.30" y="808.90" text-anchor="end">15</text>
<text x="602.30" y="860.10" text-anchor="end">16</text>
<text x="602.30" y="911.30" text-anchor="end">17</text>
<text x="602.30" y="962.50" text-anchor="end">18</text>
</g>
<text x="821.80" y="1053.80" text-anchor="middle" font-size="19.44px">BP-RP [mag]</text>
<text transform="translate(563.50,790.70) rotate(-90)" text-anchor="middle" font-size="19.44px">G [mag]</text>
<defs><linearGradient id="cbg" x1="0" y1="1" x2="0" y2="0"><stop offset="0.0000" stop-color="#3d399f"/><stop offset="0.0156" stop-color="#4538a2"/><stop offset="0.0312" stop-color="#4c38a5"/><stop offset="0.0469" stop-color="#5337a8"/><stop offset="0.0625" stop-color="#5937ab"/><stop offset="0.0781" stop-color="#5f36ad"/><stop offset="0.0938" stop-color="#6436af"/><stop offset="0.1094" stop-color="#6a36b2"/><stop offset="0.1250" stop-color="#6f35b3"/><stop offset="0.1406" stop-color="#7435b5"/><stop offset="0.1562" stop-color="#7934b7"/><stop offset="0.1719" stop-color="#7e34b8"/><stop offset="0.1875" stop-color="#8333b9"/><stop offset="0.2031" stop-color="#8833b9"/><stop offset="0.2188" stop-color="#8d33ba"/><stop offset="0.2344" stop-color="#9234ba"/><stop offset="0.2500" stop-color="#9735b9"/><stop offset="0.2656" stop-color="#9b37b9"/><stop offset="0.2812" stop-color="#a039b8"/><stop offset="0.2969" stop-color="#a53db6"/><stop offset="0.3125" stop-color="#a940b5"/><stop offset="0.3281" stop-color="#af45b2"/><stop offset="0.3438" stop-color="#b348b0"/><stop offset="0.3594" stop-color="#b74cad"/><stop offset="0.3750" stop-color="#bb4faa"/><stop offset="0.3906" stop-color="#be53a8"/><stop offset="0.4062" stop-color="#c256a5"/><stop offset="0.4219" stop-color="#c65aa2"/><stop offset="0.4375" stop-color="#c95e9f"/><stop offset="0.4531" stop-color="#cc619c"/><stop offset="0.4688" stop-color="#d06599"/><stop offset="0.4844" stop-color="#d36996"/><stop offset="0.5000" stop-color="#d66c93"/><stop offset="0.5156" stop-color="#d97090"/><stop offset="0.5312" stop-color="#dc738d"/><stop offset="0.5469" stop-color="#de778a"/><stop offset="0.5625" stop-color="#e17b87"/><stop offset="0.5781" stop-color="#e47e85"/><stop offset="0.5938" stop-color="#e68282"/><stop offset="0.6094" stop-color="#e9867f"/><stop offset="0.6250" stop-color="#ea897d"/><stop offset="0.6406" stop-color="#ed8e7a"/><stop offset="0.6562" stop-color="#ef9277"/><stop offset="0.6719" stop-color="#f19574"/><stop offset="0.6875" stop-color="#f39a71"/><stop offset="0.7031" stop-color="#f59e6f"/><stop offset="0.7188" stop-color="#f7a26c"/><stop offset="0.7344" stop-color="#f8a669"/><stop offset="0.7500" stop-color="#faaa66"/><stop offset="0.7656" stop-color="#fbaf64"/><stop offset="0.7812" stop-color="#fcb361"/><stop offset="0.7969" stop-color="#fdb85e"/><stop offset="0.8125" stop-color="#fdbd5b"/><stop offset="0.8281" stop-color="#fec259"/><stop offset="0.8438" stop-color="#fec657"/><stop offset="0.8594" stop-color="#fecb54"/><stop offset="0.8750" stop-color="#fed053"/><stop offset="0.8906" stop-color="#fdd651"/><stop offset="0.9062" stop-color="#fcdb50"/><stop offset="0.9219" stop-color="#fbe050"/><stop offset="0.9375" stop-color="#fae550"/><stop offset="0.9531" stop-color="#f8eb51"/><stop offset="0.9688" stop-color="#f6f052"/><stop offset="0.9844" stop-color="#f4f652"/><stop offset="1.0000" stop-color="#f3fa4e"/></linearGradient></defs>
<rect x="1064.4" y="67.8" width="21.199999999999818" height="931.7" fill="url(#cbg)"/>
<path d="M1085.6 822.21h-7.43M1085.6 633.61h-7.43M1085.6 445.01h-7.43M1085.6 256.40h-7.43M1085.6 67.80h-7.43M1085.6 973.10h-3.27M1085.6 935.37h-3.27M1085.6 897.65h-3.27M1085.6 859.93h-3.27M1085.6 784.49h-3.27M1085.6 746.77h-3.27M1085.6 709.05h-3.27M1085.6 671.33h-3.27M1085.6 595.89h-3.27M1085.6 558.17h-3.27M1085.6 520.45h-3.27M1085.6 482.73h-3.27M1085.6 407.29h-3.27M1085.6 369.57h-3.27M1085.6 331.84h-3.27M1085.6 294.12h-3.27M1085.6 218.68h-3.27M1085.6 180.96h-3.27M1085.6 143.24h-3.27M1085.6 105.52h-3.27" stroke="#000" stroke-width="1.39" fill="none"/>
<rect x="1064.4" y="67.8" width="21.199999999999818" height="931.7" stroke="#000" stroke-width="1.39" fill="none"/>
<g font-size="19.44px">
<text x="1095.1" y="829.51">0.6</text>
<text x="1095.1" y="640.91">0.7</text>
<text x="1095.1" y="452.31">0.8</text>
<text x="1095.1" y="263.70">0.9</text>
<text x="1095.1" y="75.10">1.0</text>
</g>
</svg>
</body></html>
